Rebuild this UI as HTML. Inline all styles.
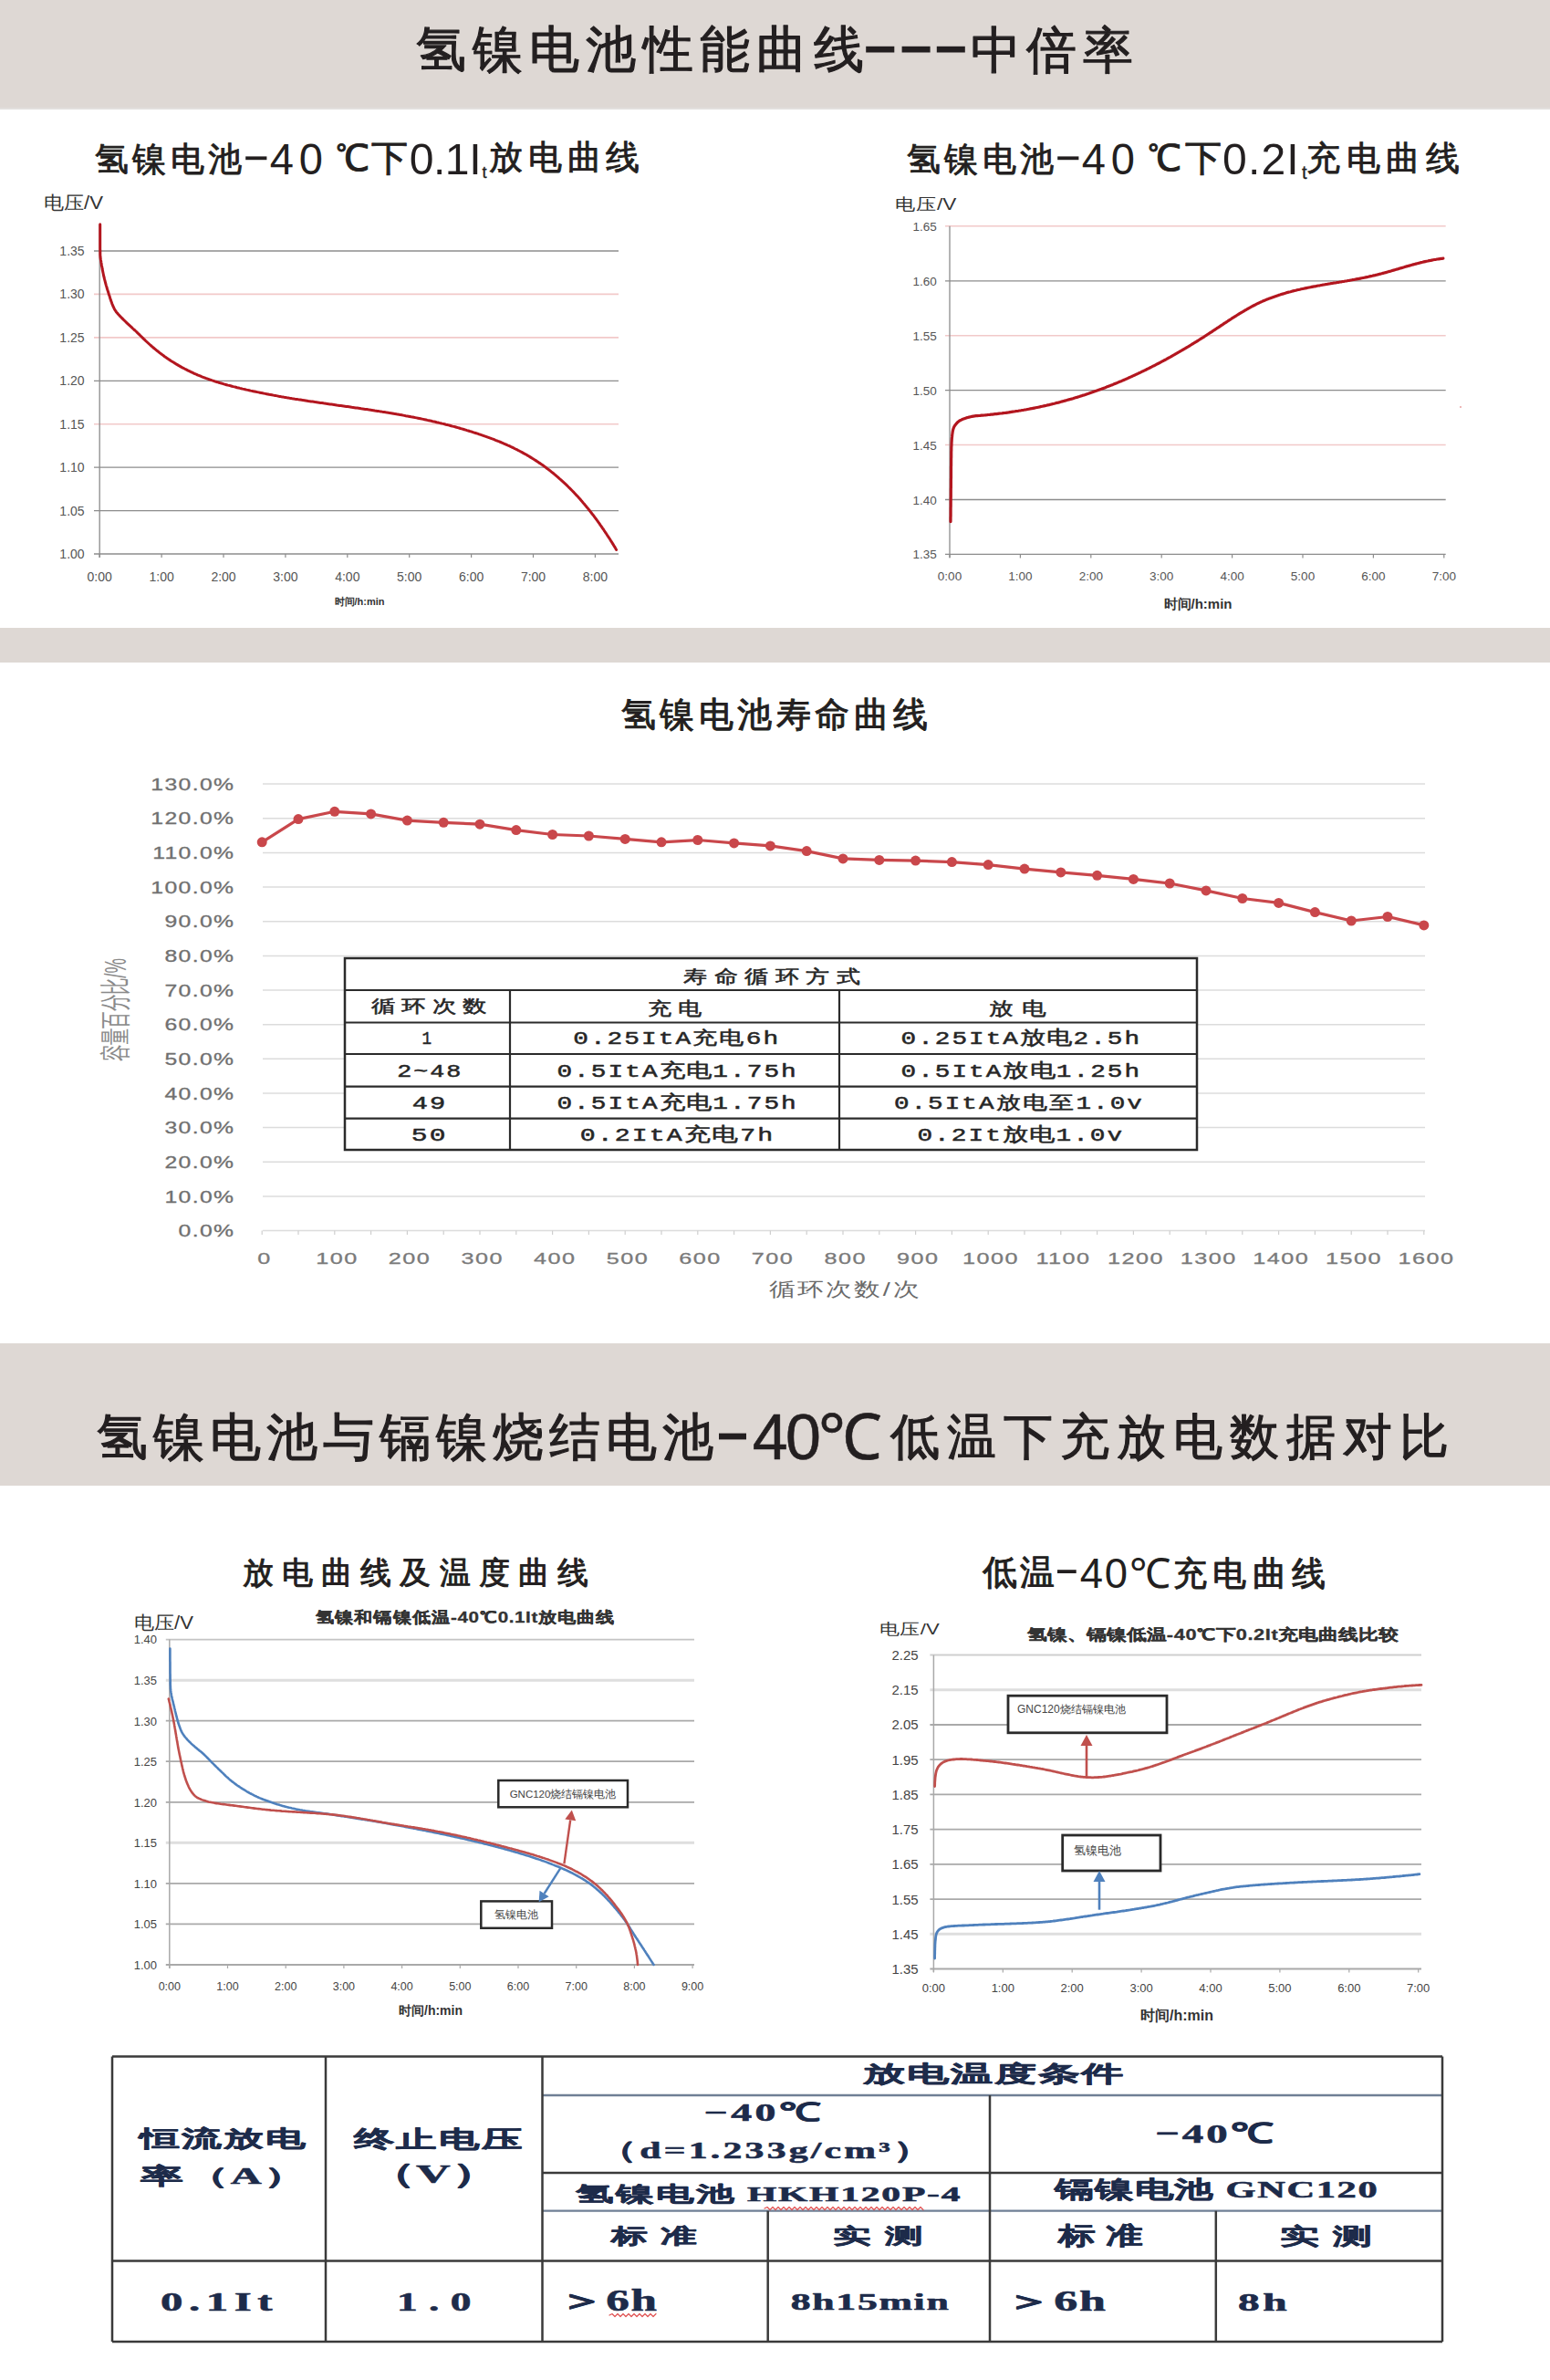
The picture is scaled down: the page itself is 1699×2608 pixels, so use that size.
<!DOCTYPE html>
<html><head><meta charset="utf-8"><style>
html,body{margin:0;padding:0;background:#fff;}
body{width:1699px;height:2608px;overflow:hidden;position:relative;font-family:"Liberation Sans",sans-serif;}
svg{position:absolute;left:0;top:0;}
</style></head><body>
<svg width="1699" height="2608" viewBox="0 0 1699 2608">
<rect x="0.0" y="0.0" width="1699.0" height="118.0" fill="#ded8d4" stroke="none" stroke-width="1"/>
<rect x="0.0" y="118.0" width="1699.0" height="2.0" fill="#e2dfdd" stroke="none" stroke-width="1"/>
<rect x="0.0" y="688.0" width="1699.0" height="38.0" fill="#ded8d4" stroke="none" stroke-width="1"/>
<rect x="0.0" y="1472.0" width="1699.0" height="156.0" fill="#ded8d4" stroke="none" stroke-width="1"/>
<text transform="translate(455.5,73.0) scale(1.0000,1)" font-size="55.48" font-family="'Liberation Sans',sans-serif" font-weight="normal" letter-spacing="7.29" fill="#231f20" stroke="#231f20" stroke-width="1.2" stroke-linejoin="round">氢镍电池性能曲线</text>
<text transform="translate(1064.2,73.8) scale(1.0000,1)" font-size="55.11" font-family="'Liberation Sans',sans-serif" font-weight="normal" letter-spacing="6.20" fill="#231f20" stroke="#231f20" stroke-width="1.2" stroke-linejoin="round">中倍率</text>
<rect x="949.2" y="50.8" width="31.1" height="6.7" fill="#231f20" stroke="none" stroke-width="1"/>
<rect x="988.6" y="50.8" width="31.0" height="6.7" fill="#231f20" stroke="none" stroke-width="1"/>
<rect x="1026.8" y="50.8" width="31.0" height="6.7" fill="#231f20" stroke="none" stroke-width="1"/>
<text transform="translate(104.2,186.5) scale(1.0000,1)" font-size="36.91" font-family="'Liberation Sans',sans-serif" font-weight="normal" letter-spacing="4.27" fill="#231f20" stroke="#231f20" stroke-width="0.9" stroke-linejoin="round">氢镍电池</text>
<text transform="translate(528.4,195.0) scale(1.0000,1)" font-size="18.31" font-family="'Liberation Sans',sans-serif" font-weight="normal" letter-spacing="0.00" fill="#231f20" stroke="#231f20" stroke-width="0.3" stroke-linejoin="round">t</text>
<text transform="translate(536.0,185.4) scale(1.0000,1)" font-size="37.07" font-family="'Liberation Sans',sans-serif" font-weight="normal" letter-spacing="5.80" fill="#231f20" stroke="#231f20" stroke-width="0.9" stroke-linejoin="round">放电曲线</text>
<text transform="translate(295.8,190.9) scale(0.9790,1)" font-size="48.10" font-family="'Liberation Sans',sans-serif" font-weight="normal" letter-spacing="6.00" fill="#231f20" >40</text>
<text transform="translate(368.4,186.5) scale(1.0000,1)" font-size="40.43" font-family="'Liberation Sans',sans-serif" font-weight="normal" letter-spacing="1.60" fill="#231f20" stroke="#231f20" stroke-width="0.9" stroke-linejoin="round">℃下</text>
<text transform="translate(448.7,190.9) scale(1.0000,1)" font-size="48.10" font-family="'Liberation Sans',sans-serif" font-weight="normal" letter-spacing="-0.47" fill="#231f20" >0.1I</text>
<text transform="translate(994.2,186.5) scale(1.0000,1)" font-size="36.91" font-family="'Liberation Sans',sans-serif" font-weight="normal" letter-spacing="4.27" fill="#231f20" stroke="#231f20" stroke-width="0.9" stroke-linejoin="round">氢镍电池</text>
<text transform="translate(1427.0,195.6) scale(1.0000,1)" font-size="20.26" font-family="'Liberation Sans',sans-serif" font-weight="normal" letter-spacing="0.00" fill="#231f20" stroke="#231f20" stroke-width="0.3" stroke-linejoin="round">t</text>
<text transform="translate(1432.2,186.4) scale(1.0000,1)" font-size="37.48" font-family="'Liberation Sans',sans-serif" font-weight="normal" letter-spacing="6.47" fill="#231f20" stroke="#231f20" stroke-width="0.9" stroke-linejoin="round">充电曲线</text>
<text transform="translate(1185.8,190.9) scale(0.9790,1)" font-size="48.10" font-family="'Liberation Sans',sans-serif" font-weight="normal" letter-spacing="6.00" fill="#231f20" >40</text>
<text transform="translate(1258.4,186.5) scale(1.0000,1)" font-size="40.43" font-family="'Liberation Sans',sans-serif" font-weight="normal" letter-spacing="3.60" fill="#231f20" stroke="#231f20" stroke-width="0.9" stroke-linejoin="round">℃下</text>
<text transform="translate(1340.1,190.9) scale(1.0000,1)" font-size="48.10" font-family="'Liberation Sans',sans-serif" font-weight="normal" letter-spacing="1.13" fill="#231f20" >0.2I</text>
<rect x="269.2" y="171.4" width="23.2" height="3.8" fill="#231f20" stroke="none" stroke-width="1"/>
<rect x="1159.2" y="171.4" width="23.2" height="3.8" fill="#231f20" stroke="none" stroke-width="1"/>
<line x1="103.0" y1="607.0" x2="678.0" y2="607.0" stroke="#8c8c8c" stroke-width="1.3"/>
<text x="92.6" y="612.0" font-size="14" fill="#555" text-anchor="end" font-weight="normal" letter-spacing="0" font-family="'Liberation Sans',sans-serif" >1.00</text>
<line x1="103.0" y1="559.6" x2="678.0" y2="559.6" stroke="#8c8c8c" stroke-width="1.3"/>
<text x="92.6" y="564.6" font-size="14" fill="#555" text-anchor="end" font-weight="normal" letter-spacing="0" font-family="'Liberation Sans',sans-serif" >1.05</text>
<line x1="103.0" y1="512.1" x2="678.0" y2="512.1" stroke="#8c8c8c" stroke-width="1.3"/>
<text x="92.6" y="517.1" font-size="14" fill="#555" text-anchor="end" font-weight="normal" letter-spacing="0" font-family="'Liberation Sans',sans-serif" >1.10</text>
<line x1="103.0" y1="464.7" x2="678.0" y2="464.7" stroke="#f2c9c9" stroke-width="1.6"/>
<text x="92.6" y="469.7" font-size="14" fill="#555" text-anchor="end" font-weight="normal" letter-spacing="0" font-family="'Liberation Sans',sans-serif" >1.15</text>
<line x1="103.0" y1="417.3" x2="678.0" y2="417.3" stroke="#8c8c8c" stroke-width="1.3"/>
<text x="92.6" y="422.3" font-size="14" fill="#555" text-anchor="end" font-weight="normal" letter-spacing="0" font-family="'Liberation Sans',sans-serif" >1.20</text>
<line x1="103.0" y1="369.9" x2="678.0" y2="369.9" stroke="#f2c9c9" stroke-width="1.6"/>
<text x="92.6" y="374.9" font-size="14" fill="#555" text-anchor="end" font-weight="normal" letter-spacing="0" font-family="'Liberation Sans',sans-serif" >1.25</text>
<line x1="103.0" y1="322.4" x2="678.0" y2="322.4" stroke="#f2c9c9" stroke-width="1.6"/>
<text x="92.6" y="327.4" font-size="14" fill="#555" text-anchor="end" font-weight="normal" letter-spacing="0" font-family="'Liberation Sans',sans-serif" >1.30</text>
<line x1="103.0" y1="275.0" x2="678.0" y2="275.0" stroke="#8c8c8c" stroke-width="1.3"/>
<text x="92.6" y="280.0" font-size="14" fill="#555" text-anchor="end" font-weight="normal" letter-spacing="0" font-family="'Liberation Sans',sans-serif" >1.35</text>
<line x1="109.2" y1="246.0" x2="109.2" y2="611.0" stroke="#8c8c8c" stroke-width="1.3"/>
<line x1="109.2" y1="607.0" x2="109.2" y2="611.0" stroke="#8c8c8c" stroke-width="1.2"/>
<text x="109.2" y="637.0" font-size="14" fill="#555" text-anchor="middle" font-weight="normal" letter-spacing="0" font-family="'Liberation Sans',sans-serif" >0:00</text>
<line x1="177.1" y1="607.0" x2="177.1" y2="611.0" stroke="#8c8c8c" stroke-width="1.2"/>
<text x="177.1" y="637.0" font-size="14" fill="#555" text-anchor="middle" font-weight="normal" letter-spacing="0" font-family="'Liberation Sans',sans-serif" >1:00</text>
<line x1="245.0" y1="607.0" x2="245.0" y2="611.0" stroke="#8c8c8c" stroke-width="1.2"/>
<text x="245.0" y="637.0" font-size="14" fill="#555" text-anchor="middle" font-weight="normal" letter-spacing="0" font-family="'Liberation Sans',sans-serif" >2:00</text>
<line x1="312.9" y1="607.0" x2="312.9" y2="611.0" stroke="#8c8c8c" stroke-width="1.2"/>
<text x="312.9" y="637.0" font-size="14" fill="#555" text-anchor="middle" font-weight="normal" letter-spacing="0" font-family="'Liberation Sans',sans-serif" >3:00</text>
<line x1="380.8" y1="607.0" x2="380.8" y2="611.0" stroke="#8c8c8c" stroke-width="1.2"/>
<text x="380.8" y="637.0" font-size="14" fill="#555" text-anchor="middle" font-weight="normal" letter-spacing="0" font-family="'Liberation Sans',sans-serif" >4:00</text>
<line x1="448.7" y1="607.0" x2="448.7" y2="611.0" stroke="#8c8c8c" stroke-width="1.2"/>
<text x="448.7" y="637.0" font-size="14" fill="#555" text-anchor="middle" font-weight="normal" letter-spacing="0" font-family="'Liberation Sans',sans-serif" >5:00</text>
<line x1="516.6" y1="607.0" x2="516.6" y2="611.0" stroke="#8c8c8c" stroke-width="1.2"/>
<text x="516.6" y="637.0" font-size="14" fill="#555" text-anchor="middle" font-weight="normal" letter-spacing="0" font-family="'Liberation Sans',sans-serif" >6:00</text>
<line x1="584.5" y1="607.0" x2="584.5" y2="611.0" stroke="#8c8c8c" stroke-width="1.2"/>
<text x="584.5" y="637.0" font-size="14" fill="#555" text-anchor="middle" font-weight="normal" letter-spacing="0" font-family="'Liberation Sans',sans-serif" >7:00</text>
<line x1="652.4" y1="607.0" x2="652.4" y2="611.0" stroke="#8c8c8c" stroke-width="1.2"/>
<text x="652.4" y="637.0" font-size="14" fill="#555" text-anchor="middle" font-weight="normal" letter-spacing="0" font-family="'Liberation Sans',sans-serif" >8:00</text>
<text x="394.0" y="663.0" font-size="11" fill="#333" text-anchor="middle" font-weight="bold" letter-spacing="0" font-family="'Liberation Sans',sans-serif" >时间/h:min</text>
<text transform="translate(48.0,229.0) scale(1.1037,1)" font-size="20.08" font-family="'Liberation Sans',sans-serif" font-weight="normal" letter-spacing="0.00" fill="#333" >电压/V</text>
<path d="M109.7,245.8 L109.7,247.6 L109.7,248.9 L109.7,250.3 L109.7,251.8 L109.7,253.3 L109.7,254.8 L109.7,256.3 L109.7,257.8 L109.7,259.3 L109.7,260.8 L109.7,262.3 L109.7,263.8 L109.7,265.3 L109.7,266.8 L109.7,268.3 L109.7,269.8 L109.7,271.3 L109.7,272.8 L109.8,274.3 L109.8,275.8 L109.8,277.3 L109.8,278.8 L109.9,280.3 L110.0,281.8 L110.2,283.3 L110.4,284.8 L110.7,286.2 L110.9,287.7 L111.2,289.2 L111.4,290.7 L111.7,292.2 L112.0,293.6 L112.2,295.1 L112.5,296.6 L112.8,298.1 L113.1,299.5 L113.4,301.0 L113.7,302.5 L114.1,303.9 L114.4,305.4 L114.8,306.8 L115.2,308.3 L115.5,309.7 L115.9,311.2 L116.3,312.6 L116.8,314.1 L117.2,315.5 L117.6,317.0 L118.1,318.4 L118.5,319.8 L119.0,321.3 L119.4,322.7 L119.9,324.1 L120.4,325.6 L120.8,327.0 L121.3,328.5 L121.8,329.9 L122.3,331.3 L122.8,332.8 L123.4,334.2 L123.9,335.5 L124.6,336.9 L125.2,338.2 L125.9,339.5 L126.7,340.7 L127.5,341.9 L128.5,343.0 L129.5,344.2 L130.5,345.3 L131.5,346.4 L132.6,347.5 L133.7,348.6 L134.7,349.6 L135.8,350.7 L136.9,351.8 L137.9,352.8 L139.0,353.9 L140.1,354.9 L141.2,355.9 L142.3,356.9 L143.4,357.9 L144.5,358.9 L145.6,360.0 L146.7,361.0 L147.9,362.0 L149.0,363.0 L150.0,364.0 L151.1,365.1 L152.2,366.1 L153.3,367.2 L154.3,368.2 L155.4,369.3 L156.5,370.4 L157.5,371.4 L158.6,372.4 L159.7,373.5 L160.8,374.5 L161.9,375.5 L163.0,376.5 L164.1,377.5 L165.2,378.5 L166.4,379.5 L167.5,380.5 L168.7,381.5 L169.8,382.4 L171.0,383.4 L172.1,384.3 L173.3,385.2 L174.5,386.2 L175.7,387.1 L176.9,388.0 L178.1,388.9 L179.3,389.8 L180.5,390.7 L181.7,391.5 L183.0,392.4 L184.2,393.2 L185.4,394.1 L186.7,394.9 L187.9,395.7 L189.2,396.5 L190.5,397.3 L191.8,398.1 L193.0,398.9 L194.3,399.6 L195.6,400.4 L196.9,401.1 L198.2,401.9 L199.5,402.6 L200.9,403.3 L202.2,404.0 L203.5,404.7 L204.9,405.4 L206.2,406.1 L207.5,406.7 L208.9,407.4 L210.3,408.0 L211.6,408.6 L213.0,409.3 L214.4,409.9 L215.7,410.5 L217.1,411.1 L218.5,411.6 L219.9,412.2 L221.3,412.8 L222.7,413.3 L224.1,413.8 L225.5,414.4 L226.9,414.9 L228.3,415.4 L229.7,415.9 L231.1,416.4 L232.5,416.9 L234.0,417.3 L235.4,417.8 L236.8,418.3 L238.3,418.7 L239.7,419.2 L241.1,419.6 L242.6,420.0 L244.0,420.4 L245.4,420.9 L246.9,421.3 L248.3,421.7 L249.8,422.1 L251.2,422.4 L252.7,422.8 L254.1,423.2 L255.6,423.6 L257.0,423.9 L258.5,424.3 L259.9,424.7 L261.4,425.0 L262.9,425.4 L264.3,425.7 L265.8,426.1 L267.2,426.4 L268.7,426.7 L270.2,427.1 L271.6,427.4 L273.1,427.7 L274.6,428.1 L276.0,428.4 L277.5,428.7 L279.0,429.0 L280.4,429.3 L281.9,429.6 L283.4,429.9 L284.8,430.2 L286.3,430.5 L287.8,430.8 L289.2,431.1 L290.7,431.4 L292.2,431.7 L293.7,432.0 L295.1,432.3 L296.6,432.5 L298.1,432.8 L299.6,433.1 L301.0,433.4 L302.5,433.6 L304.0,433.9 L305.5,434.2 L306.9,434.4 L308.4,434.7 L309.9,434.9 L311.4,435.2 L312.8,435.4 L314.3,435.7 L315.8,435.9 L317.3,436.2 L318.8,436.4 L320.2,436.7 L321.7,436.9 L323.2,437.2 L324.7,437.4 L326.2,437.6 L327.7,437.9 L329.1,438.1 L330.6,438.3 L332.1,438.6 L333.6,438.8 L335.1,439.0 L336.5,439.2 L338.0,439.5 L339.5,439.7 L341.0,439.9 L342.5,440.1 L344.0,440.3 L345.4,440.6 L346.9,440.8 L348.4,441.0 L349.9,441.2 L351.4,441.4 L352.9,441.6 L354.4,441.8 L355.8,442.1 L357.3,442.3 L358.8,442.5 L360.3,442.7 L361.8,442.9 L363.3,443.1 L364.8,443.3 L366.2,443.5 L367.7,443.7 L369.2,444.0 L370.7,444.2 L372.2,444.4 L373.7,444.6 L375.1,444.8 L376.6,445.0 L378.1,445.2 L379.6,445.4 L381.1,445.6 L382.6,445.8 L384.1,446.0 L385.5,446.3 L387.0,446.5 L388.5,446.7 L390.0,446.9 L391.5,447.1 L393.0,447.3 L394.5,447.5 L395.9,447.8 L397.4,448.0 L398.9,448.2 L400.4,448.4 L401.9,448.6 L403.4,448.8 L404.8,449.1 L406.3,449.3 L407.8,449.5 L409.3,449.7 L410.8,450.0 L412.3,450.2 L413.7,450.4 L415.2,450.6 L416.7,450.9 L418.2,451.1 L419.7,451.4 L421.1,451.6 L422.6,451.8 L424.1,452.1 L425.6,452.3 L427.1,452.6 L428.6,452.8 L430.0,453.0 L431.5,453.3 L433.0,453.6 L434.5,453.8 L435.9,454.1 L437.4,454.3 L438.9,454.6 L440.4,454.8 L441.9,455.1 L443.3,455.4 L444.8,455.7 L446.3,455.9 L447.8,456.2 L449.2,456.5 L450.7,456.8 L452.2,457.0 L453.6,457.3 L455.1,457.6 L456.6,457.9 L458.1,458.2 L459.5,458.5 L461.0,458.8 L462.5,459.1 L463.9,459.4 L465.4,459.7 L466.9,460.0 L468.3,460.4 L469.8,460.7 L471.3,461.0 L472.7,461.3 L474.2,461.7 L475.7,462.0 L477.1,462.3 L478.6,462.7 L480.0,463.0 L481.5,463.4 L483.0,463.7 L484.4,464.1 L485.9,464.4 L487.3,464.8 L488.8,465.2 L490.2,465.5 L491.7,465.9 L493.1,466.3 L494.6,466.7 L496.0,467.1 L497.5,467.4 L498.9,467.8 L500.4,468.2 L501.8,468.6 L503.3,469.0 L504.7,469.5 L506.1,469.9 L507.6,470.3 L509.0,470.7 L510.5,471.1 L511.9,471.6 L513.3,472.0 L514.8,472.5 L516.2,472.9 L517.6,473.3 L519.1,473.8 L520.5,474.3 L521.9,474.7 L523.3,475.2 L524.8,475.7 L526.2,476.1 L527.6,476.6 L529.0,477.1 L530.4,477.6 L531.9,478.1 L533.3,478.6 L534.7,479.1 L536.1,479.6 L537.5,480.1 L538.9,480.7 L540.3,481.2 L541.7,481.7 L543.1,482.3 L544.5,482.8 L545.9,483.4 L547.3,483.9 L548.7,484.5 L550.1,485.1 L551.4,485.7 L552.8,486.3 L554.2,486.9 L555.6,487.5 L556.9,488.1 L558.3,488.7 L559.7,489.4 L561.0,490.0 L562.4,490.6 L563.7,491.3 L565.1,492.0 L566.4,492.6 L567.7,493.3 L569.1,494.0 L570.4,494.7 L571.7,495.4 L573.0,496.1 L574.3,496.9 L575.7,497.6 L577.0,498.3 L578.3,499.1 L579.5,499.8 L580.8,500.6 L582.1,501.4 L583.4,502.2 L584.7,503.0 L585.9,503.8 L587.2,504.6 L588.5,505.4 L589.7,506.2 L590.9,507.1 L592.2,507.9 L593.4,508.8 L594.6,509.6 L595.9,510.5 L597.1,511.4 L598.3,512.3 L599.5,513.2 L600.7,514.1 L601.9,515.0 L603.1,515.9 L604.2,516.8 L605.4,517.8 L606.6,518.7 L607.7,519.7 L608.9,520.6 L610.0,521.6 L611.2,522.6 L612.3,523.6 L613.4,524.6 L614.6,525.6 L615.7,526.6 L616.8,527.6 L617.9,528.6 L619.0,529.6 L620.1,530.6 L621.1,531.7 L622.2,532.7 L623.3,533.8 L624.4,534.8 L625.4,535.9 L626.5,537.0 L627.5,538.0 L628.6,539.1 L629.6,540.2 L630.6,541.3 L631.6,542.4 L632.7,543.5 L633.7,544.6 L634.7,545.7 L635.7,546.8 L636.7,548.0 L637.6,549.1 L638.6,550.2 L639.6,551.4 L640.6,552.5 L641.5,553.7 L642.5,554.8 L643.4,556.0 L644.4,557.1 L645.3,558.3 L646.3,559.5 L647.2,560.7 L648.1,561.8 L649.0,563.0 L650.0,564.2 L650.9,565.4 L651.8,566.6 L652.7,567.8 L653.6,569.0 L654.4,570.2 L655.3,571.4 L656.2,572.7 L657.1,573.9 L657.9,575.1 L658.8,576.3 L659.7,577.6 L660.5,578.8 L661.4,580.0 L662.2,581.3 L663.0,582.5 L663.9,583.8 L664.7,585.0 L665.5,586.3 L666.3,587.5 L667.2,588.8 L668.0,590.0 L668.8,591.3 L669.6,592.6 L670.4,593.8 L671.2,595.1 L672.0,596.4 L672.8,597.7 L673.5,598.9 L674.3,600.1 L674.9,601.2 L675.6,602.4" fill="none" stroke="#b3161f" stroke-width="3" stroke-linejoin="round" stroke-linecap="round" />
<line x1="1036.0" y1="607.4" x2="1584.7" y2="607.4" stroke="#8c8c8c" stroke-width="1.3"/>
<text x="1026.8" y="612.4" font-size="13.5" fill="#555" text-anchor="end" font-weight="normal" letter-spacing="0" font-family="'Liberation Sans',sans-serif" >1.35</text>
<line x1="1036.0" y1="547.5" x2="1584.7" y2="547.5" stroke="#8c8c8c" stroke-width="1.3"/>
<text x="1026.8" y="552.5" font-size="13.5" fill="#555" text-anchor="end" font-weight="normal" letter-spacing="0" font-family="'Liberation Sans',sans-serif" >1.40</text>
<line x1="1036.0" y1="487.5" x2="1584.7" y2="487.5" stroke="#f2c9c9" stroke-width="1.6"/>
<text x="1026.8" y="492.5" font-size="13.5" fill="#555" text-anchor="end" font-weight="normal" letter-spacing="0" font-family="'Liberation Sans',sans-serif" >1.45</text>
<line x1="1036.0" y1="427.6" x2="1584.7" y2="427.6" stroke="#8c8c8c" stroke-width="1.3"/>
<text x="1026.8" y="432.6" font-size="13.5" fill="#555" text-anchor="end" font-weight="normal" letter-spacing="0" font-family="'Liberation Sans',sans-serif" >1.50</text>
<line x1="1036.0" y1="367.7" x2="1584.7" y2="367.7" stroke="#f2c9c9" stroke-width="1.6"/>
<text x="1026.8" y="372.7" font-size="13.5" fill="#555" text-anchor="end" font-weight="normal" letter-spacing="0" font-family="'Liberation Sans',sans-serif" >1.55</text>
<line x1="1036.0" y1="307.8" x2="1584.7" y2="307.8" stroke="#8c8c8c" stroke-width="1.3"/>
<text x="1026.8" y="312.8" font-size="13.5" fill="#555" text-anchor="end" font-weight="normal" letter-spacing="0" font-family="'Liberation Sans',sans-serif" >1.60</text>
<line x1="1036.0" y1="247.8" x2="1584.7" y2="247.8" stroke="#f2c9c9" stroke-width="1.6"/>
<text x="1026.8" y="252.8" font-size="13.5" fill="#555" text-anchor="end" font-weight="normal" letter-spacing="0" font-family="'Liberation Sans',sans-serif" >1.65</text>
<line x1="1041.0" y1="247.8" x2="1041.0" y2="611.0" stroke="#8c8c8c" stroke-width="1.3"/>
<line x1="1041.0" y1="607.4" x2="1041.0" y2="611.5" stroke="#8c8c8c" stroke-width="1.2"/>
<text x="1041.0" y="636.0" font-size="13.5" fill="#555" text-anchor="middle" font-weight="normal" letter-spacing="0" font-family="'Liberation Sans',sans-serif" >0:00</text>
<line x1="1118.4" y1="607.4" x2="1118.4" y2="611.5" stroke="#8c8c8c" stroke-width="1.2"/>
<text x="1118.4" y="636.0" font-size="13.5" fill="#555" text-anchor="middle" font-weight="normal" letter-spacing="0" font-family="'Liberation Sans',sans-serif" >1:00</text>
<line x1="1195.8" y1="607.4" x2="1195.8" y2="611.5" stroke="#8c8c8c" stroke-width="1.2"/>
<text x="1195.8" y="636.0" font-size="13.5" fill="#555" text-anchor="middle" font-weight="normal" letter-spacing="0" font-family="'Liberation Sans',sans-serif" >2:00</text>
<line x1="1273.2" y1="607.4" x2="1273.2" y2="611.5" stroke="#8c8c8c" stroke-width="1.2"/>
<text x="1273.2" y="636.0" font-size="13.5" fill="#555" text-anchor="middle" font-weight="normal" letter-spacing="0" font-family="'Liberation Sans',sans-serif" >3:00</text>
<line x1="1350.6" y1="607.4" x2="1350.6" y2="611.5" stroke="#8c8c8c" stroke-width="1.2"/>
<text x="1350.6" y="636.0" font-size="13.5" fill="#555" text-anchor="middle" font-weight="normal" letter-spacing="0" font-family="'Liberation Sans',sans-serif" >4:00</text>
<line x1="1428.0" y1="607.4" x2="1428.0" y2="611.5" stroke="#8c8c8c" stroke-width="1.2"/>
<text x="1428.0" y="636.0" font-size="13.5" fill="#555" text-anchor="middle" font-weight="normal" letter-spacing="0" font-family="'Liberation Sans',sans-serif" >5:00</text>
<line x1="1505.4" y1="607.4" x2="1505.4" y2="611.5" stroke="#8c8c8c" stroke-width="1.2"/>
<text x="1505.4" y="636.0" font-size="13.5" fill="#555" text-anchor="middle" font-weight="normal" letter-spacing="0" font-family="'Liberation Sans',sans-serif" >6:00</text>
<line x1="1582.8" y1="607.4" x2="1582.8" y2="611.5" stroke="#8c8c8c" stroke-width="1.2"/>
<text x="1582.8" y="636.0" font-size="13.5" fill="#555" text-anchor="middle" font-weight="normal" letter-spacing="0" font-family="'Liberation Sans',sans-serif" >7:00</text>
<text x="1313.0" y="667.0" font-size="15" fill="#333" text-anchor="middle" font-weight="bold" letter-spacing="0" font-family="'Liberation Sans',sans-serif" >时间/h:min</text>
<text transform="translate(980.9,229.6) scale(1.2349,1)" font-size="18.32" font-family="'Liberation Sans',sans-serif" font-weight="normal" letter-spacing="0.00" fill="#333" >电压/V</text>
<path d="M1042.0,571.6 L1042.0,569.8 L1042.0,568.5 L1042.0,567.1 L1042.1,565.6 L1042.1,564.1 L1042.1,562.6 L1042.1,561.1 L1042.1,559.6 L1042.1,558.1 L1042.1,556.6 L1042.2,555.1 L1042.2,553.6 L1042.2,552.1 L1042.2,550.6 L1042.2,549.1 L1042.2,547.6 L1042.2,546.1 L1042.3,544.6 L1042.3,543.1 L1042.3,541.6 L1042.3,540.1 L1042.3,538.6 L1042.3,537.1 L1042.3,535.6 L1042.4,534.1 L1042.4,532.6 L1042.4,531.1 L1042.4,529.6 L1042.4,528.1 L1042.4,526.6 L1042.4,525.1 L1042.5,523.6 L1042.5,522.1 L1042.5,520.6 L1042.5,519.1 L1042.5,517.6 L1042.5,516.1 L1042.5,514.6 L1042.5,513.1 L1042.5,511.6 L1042.6,510.1 L1042.6,508.6 L1042.6,507.1 L1042.6,505.6 L1042.6,504.1 L1042.6,502.6 L1042.7,501.1 L1042.7,499.6 L1042.7,498.1 L1042.7,496.6 L1042.7,495.1 L1042.8,493.6 L1042.8,492.1 L1042.8,490.6 L1042.9,489.1 L1043.0,487.5 L1043.0,486.0 L1043.1,484.5 L1043.2,482.9 L1043.3,481.4 L1043.4,479.9 L1043.6,478.4 L1043.7,476.9 L1043.9,475.4 L1044.1,474.0 L1044.3,472.6 L1044.6,471.2 L1045.0,469.8 L1045.5,468.4 L1046.2,467.0 L1047.1,465.7 L1048.1,464.4 L1049.1,463.3 L1050.2,462.3 L1051.3,461.4 L1052.4,460.7 L1053.7,460.1 L1054.9,459.5 L1056.3,458.9 L1057.7,458.4 L1059.2,457.9 L1060.7,457.5 L1062.2,457.1 L1063.8,456.7 L1065.3,456.4 L1066.9,456.1 L1068.4,455.9 L1069.9,455.7 L1071.4,455.6 L1072.9,455.5 L1074.4,455.4 L1075.9,455.2 L1077.4,455.1 L1078.9,455.0 L1080.4,454.8 L1081.9,454.7 L1083.4,454.5 L1084.9,454.4 L1086.4,454.2 L1087.8,454.1 L1089.3,453.9 L1090.8,453.7 L1092.3,453.6 L1093.8,453.4 L1095.3,453.2 L1096.8,453.0 L1098.3,452.9 L1099.8,452.7 L1101.2,452.5 L1102.7,452.3 L1104.2,452.1 L1105.7,451.9 L1107.2,451.6 L1108.7,451.4 L1110.2,451.2 L1111.6,451.0 L1113.1,450.7 L1114.6,450.5 L1116.1,450.3 L1117.6,450.0 L1119.0,449.8 L1120.5,449.5 L1122.0,449.3 L1123.5,449.0 L1124.9,448.8 L1126.4,448.5 L1127.9,448.2 L1129.4,447.9 L1130.8,447.7 L1132.3,447.4 L1133.8,447.1 L1135.3,446.8 L1136.7,446.5 L1138.2,446.2 L1139.7,445.9 L1141.1,445.5 L1142.6,445.2 L1144.1,444.9 L1145.5,444.6 L1147.0,444.3 L1148.4,443.9 L1149.9,443.6 L1151.4,443.2 L1152.8,442.9 L1154.3,442.5 L1155.7,442.2 L1157.2,441.8 L1158.6,441.4 L1160.1,441.1 L1161.6,440.7 L1163.0,440.3 L1164.5,439.9 L1165.9,439.5 L1167.3,439.1 L1168.8,438.7 L1170.2,438.3 L1171.7,437.9 L1173.1,437.5 L1174.6,437.1 L1176.0,436.7 L1177.4,436.2 L1178.9,435.8 L1180.3,435.4 L1181.7,434.9 L1183.2,434.5 L1184.6,434.0 L1186.0,433.6 L1187.5,433.1 L1188.9,432.7 L1190.3,432.2 L1191.7,431.7 L1193.2,431.3 L1194.6,430.8 L1196.0,430.3 L1197.4,429.8 L1198.8,429.3 L1200.2,428.8 L1201.7,428.3 L1203.1,427.8 L1204.5,427.3 L1205.9,426.8 L1207.3,426.3 L1208.7,425.7 L1210.1,425.2 L1211.5,424.7 L1212.9,424.1 L1214.3,423.6 L1215.7,423.0 L1217.1,422.5 L1218.5,421.9 L1219.9,421.4 L1221.3,420.8 L1222.7,420.2 L1224.0,419.7 L1225.4,419.1 L1226.8,418.5 L1228.2,417.9 L1229.6,417.4 L1231.0,416.8 L1232.3,416.2 L1233.7,415.6 L1235.1,415.0 L1236.4,414.4 L1237.8,413.7 L1239.2,413.1 L1240.6,412.5 L1241.9,411.9 L1243.3,411.3 L1244.6,410.6 L1246.0,410.0 L1247.4,409.4 L1248.7,408.7 L1250.1,408.1 L1251.4,407.4 L1252.8,406.8 L1254.1,406.1 L1255.5,405.5 L1256.8,404.8 L1258.2,404.1 L1259.5,403.5 L1260.8,402.8 L1262.2,402.1 L1263.5,401.4 L1264.9,400.8 L1266.2,400.1 L1267.5,399.4 L1268.8,398.7 L1270.2,398.0 L1271.5,397.3 L1272.8,396.6 L1274.1,395.9 L1275.5,395.2 L1276.8,394.5 L1278.1,393.8 L1279.4,393.0 L1280.7,392.3 L1282.1,391.6 L1283.4,390.9 L1284.7,390.1 L1286.0,389.4 L1287.3,388.7 L1288.6,387.9 L1289.9,387.2 L1291.2,386.4 L1292.5,385.7 L1293.8,384.9 L1295.1,384.2 L1296.4,383.4 L1297.7,382.6 L1299.0,381.9 L1300.2,381.1 L1301.5,380.3 L1302.8,379.6 L1304.1,378.8 L1305.4,378.0 L1306.7,377.2 L1307.9,376.5 L1309.2,375.7 L1310.5,374.9 L1311.8,374.1 L1313.0,373.3 L1314.3,372.5 L1315.6,371.7 L1316.8,370.9 L1318.1,370.1 L1319.4,369.3 L1320.6,368.5 L1321.9,367.7 L1323.2,366.8 L1324.4,366.0 L1325.7,365.2 L1326.9,364.4 L1328.2,363.6 L1329.4,362.7 L1330.7,361.9 L1331.9,361.1 L1333.2,360.2 L1334.4,359.4 L1335.7,358.6 L1336.9,357.8 L1338.2,356.9 L1339.4,356.1 L1340.7,355.3 L1341.9,354.4 L1343.2,353.6 L1344.4,352.8 L1345.7,352.0 L1346.9,351.1 L1348.2,350.3 L1349.5,349.5 L1350.7,348.7 L1352.0,347.9 L1353.2,347.1 L1354.5,346.3 L1355.8,345.5 L1357.1,344.7 L1358.3,343.9 L1359.6,343.1 L1360.9,342.3 L1362.2,341.6 L1363.5,340.8 L1364.8,340.0 L1366.1,339.3 L1367.4,338.5 L1368.7,337.8 L1370.0,337.1 L1371.3,336.4 L1372.6,335.7 L1373.9,335.0 L1375.3,334.3 L1376.6,333.6 L1377.9,332.9 L1379.3,332.3 L1380.6,331.6 L1382.0,331.0 L1383.4,330.4 L1384.7,329.8 L1386.1,329.2 L1387.5,328.6 L1388.9,328.0 L1390.3,327.5 L1391.7,326.9 L1393.1,326.4 L1394.5,325.9 L1395.9,325.4 L1397.3,324.9 L1398.7,324.4 L1400.2,323.9 L1401.6,323.4 L1403.0,323.0 L1404.4,322.5 L1405.9,322.1 L1407.3,321.7 L1408.8,321.3 L1410.2,320.8 L1411.6,320.4 L1413.1,320.0 L1414.5,319.7 L1416.0,319.3 L1417.4,318.9 L1418.9,318.5 L1420.4,318.2 L1421.8,317.8 L1423.3,317.5 L1424.7,317.2 L1426.2,316.8 L1427.7,316.5 L1429.1,316.2 L1430.6,315.9 L1432.1,315.6 L1433.5,315.3 L1435.0,315.0 L1436.5,314.7 L1437.9,314.4 L1439.4,314.1 L1440.9,313.8 L1442.4,313.6 L1443.8,313.3 L1445.3,313.0 L1446.8,312.8 L1448.3,312.5 L1449.7,312.2 L1451.2,312.0 L1452.7,311.7 L1454.2,311.5 L1455.7,311.2 L1457.1,311.0 L1458.6,310.7 L1460.1,310.5 L1461.6,310.2 L1463.1,310.0 L1464.5,309.8 L1466.0,309.5 L1467.5,309.3 L1469.0,309.0 L1470.5,308.8 L1471.9,308.5 L1473.4,308.3 L1474.9,308.0 L1476.4,307.8 L1477.8,307.5 L1479.3,307.3 L1480.8,307.0 L1482.3,306.7 L1483.8,306.5 L1485.2,306.2 L1486.7,305.9 L1488.2,305.6 L1489.6,305.4 L1491.1,305.1 L1492.6,304.8 L1494.1,304.5 L1495.5,304.2 L1497.0,303.9 L1498.5,303.6 L1499.9,303.3 L1501.4,302.9 L1502.9,302.6 L1504.3,302.3 L1505.8,301.9 L1507.2,301.6 L1508.7,301.2 L1510.2,300.9 L1511.6,300.5 L1513.1,300.1 L1514.5,299.8 L1516.0,299.4 L1517.4,299.0 L1518.9,298.6 L1520.3,298.2 L1521.7,297.8 L1523.2,297.4 L1524.6,297.0 L1526.1,296.5 L1527.5,296.1 L1528.9,295.7 L1530.4,295.3 L1531.8,294.9 L1533.3,294.4 L1534.7,294.0 L1536.1,293.6 L1537.6,293.2 L1539.0,292.8 L1540.5,292.3 L1541.9,291.9 L1543.4,291.5 L1544.8,291.1 L1546.2,290.7 L1547.7,290.3 L1549.1,289.9 L1550.6,289.5 L1552.0,289.1 L1553.5,288.7 L1554.9,288.4 L1556.4,288.0 L1557.8,287.6 L1559.3,287.3 L1560.8,286.9 L1562.2,286.6 L1563.7,286.3 L1565.1,286.0 L1566.6,285.6 L1568.1,285.4 L1569.6,285.1 L1571.0,284.8 L1572.5,284.5 L1574.0,284.3 L1575.5,284.0 L1576.9,283.8 L1578.4,283.6 L1579.8,283.4 L1580.8,283.3 L1581.9,283.2" fill="none" stroke="#b3161f" stroke-width="3.2" stroke-linejoin="round" stroke-linecap="round" />
<circle cx="1601" cy="446" r="1" fill="#e8a0a0"/>
<text transform="translate(680.8,795.5) scale(1.0000,1)" font-size="37.92" font-family="'Liberation Sans',sans-serif" font-weight="normal" letter-spacing="4.54" fill="#231f20" stroke="#231f20" stroke-width="1.0" stroke-linejoin="round">氢镍电池寿命曲线</text>
<line x1="288.0" y1="1348.6" x2="1562.0" y2="1348.6" stroke="#dcdcdc" stroke-width="1.5"/>
<text transform="translate(257.4,1355.2) scale(1.36,1)" text-anchor="end" font-size="18.2" letter-spacing="1" font-family="'Liberation Sans',sans-serif" fill="#707070" stroke="#707070" stroke-width="0.3">0.0%</text>
<line x1="288.0" y1="1310.9" x2="1562.0" y2="1310.9" stroke="#dcdcdc" stroke-width="1.5"/>
<text transform="translate(257.4,1317.5) scale(1.36,1)" text-anchor="end" font-size="18.2" letter-spacing="1" font-family="'Liberation Sans',sans-serif" fill="#707070" stroke="#707070" stroke-width="0.3">10.0%</text>
<line x1="288.0" y1="1273.3" x2="1562.0" y2="1273.3" stroke="#dcdcdc" stroke-width="1.5"/>
<text transform="translate(257.4,1279.9) scale(1.36,1)" text-anchor="end" font-size="18.2" letter-spacing="1" font-family="'Liberation Sans',sans-serif" fill="#707070" stroke="#707070" stroke-width="0.3">20.0%</text>
<line x1="288.0" y1="1235.6" x2="1562.0" y2="1235.6" stroke="#dcdcdc" stroke-width="1.5"/>
<text transform="translate(257.4,1242.2) scale(1.36,1)" text-anchor="end" font-size="18.2" letter-spacing="1" font-family="'Liberation Sans',sans-serif" fill="#707070" stroke="#707070" stroke-width="0.3">30.0%</text>
<line x1="288.0" y1="1198.0" x2="1562.0" y2="1198.0" stroke="#dcdcdc" stroke-width="1.5"/>
<text transform="translate(257.4,1204.6) scale(1.36,1)" text-anchor="end" font-size="18.2" letter-spacing="1" font-family="'Liberation Sans',sans-serif" fill="#707070" stroke="#707070" stroke-width="0.3">40.0%</text>
<line x1="288.0" y1="1160.3" x2="1562.0" y2="1160.3" stroke="#dcdcdc" stroke-width="1.5"/>
<text transform="translate(257.4,1166.9) scale(1.36,1)" text-anchor="end" font-size="18.2" letter-spacing="1" font-family="'Liberation Sans',sans-serif" fill="#707070" stroke="#707070" stroke-width="0.3">50.0%</text>
<line x1="288.0" y1="1122.7" x2="1562.0" y2="1122.7" stroke="#dcdcdc" stroke-width="1.5"/>
<text transform="translate(257.4,1129.3) scale(1.36,1)" text-anchor="end" font-size="18.2" letter-spacing="1" font-family="'Liberation Sans',sans-serif" fill="#707070" stroke="#707070" stroke-width="0.3">60.0%</text>
<line x1="288.0" y1="1085.0" x2="1562.0" y2="1085.0" stroke="#dcdcdc" stroke-width="1.5"/>
<text transform="translate(257.4,1091.6) scale(1.36,1)" text-anchor="end" font-size="18.2" letter-spacing="1" font-family="'Liberation Sans',sans-serif" fill="#707070" stroke="#707070" stroke-width="0.3">70.0%</text>
<line x1="288.0" y1="1047.4" x2="1562.0" y2="1047.4" stroke="#dcdcdc" stroke-width="1.5"/>
<text transform="translate(257.4,1054.0) scale(1.36,1)" text-anchor="end" font-size="18.2" letter-spacing="1" font-family="'Liberation Sans',sans-serif" fill="#707070" stroke="#707070" stroke-width="0.3">80.0%</text>
<line x1="288.0" y1="1009.8" x2="1562.0" y2="1009.8" stroke="#dcdcdc" stroke-width="1.5"/>
<text transform="translate(257.4,1016.4) scale(1.36,1)" text-anchor="end" font-size="18.2" letter-spacing="1" font-family="'Liberation Sans',sans-serif" fill="#707070" stroke="#707070" stroke-width="0.3">90.0%</text>
<line x1="288.0" y1="972.1" x2="1562.0" y2="972.1" stroke="#dcdcdc" stroke-width="1.5"/>
<text transform="translate(257.4,978.7) scale(1.36,1)" text-anchor="end" font-size="18.2" letter-spacing="1" font-family="'Liberation Sans',sans-serif" fill="#707070" stroke="#707070" stroke-width="0.3">100.0%</text>
<line x1="288.0" y1="934.4" x2="1562.0" y2="934.4" stroke="#dcdcdc" stroke-width="1.5"/>
<text transform="translate(257.4,941.0) scale(1.36,1)" text-anchor="end" font-size="18.2" letter-spacing="1" font-family="'Liberation Sans',sans-serif" fill="#707070" stroke="#707070" stroke-width="0.3">110.0%</text>
<line x1="288.0" y1="896.8" x2="1562.0" y2="896.8" stroke="#dcdcdc" stroke-width="1.5"/>
<text transform="translate(257.4,903.4) scale(1.36,1)" text-anchor="end" font-size="18.2" letter-spacing="1" font-family="'Liberation Sans',sans-serif" fill="#707070" stroke="#707070" stroke-width="0.3">120.0%</text>
<line x1="288.0" y1="859.1" x2="1562.0" y2="859.1" stroke="#dcdcdc" stroke-width="1.5"/>
<text transform="translate(257.4,865.7) scale(1.36,1)" text-anchor="end" font-size="18.2" letter-spacing="1" font-family="'Liberation Sans',sans-serif" fill="#707070" stroke="#707070" stroke-width="0.3">130.0%</text>
<line x1="287.2" y1="1348.6" x2="287.2" y2="1353.0" stroke="#cfcfcf" stroke-width="1.2"/>
<line x1="327.0" y1="1348.6" x2="327.0" y2="1353.0" stroke="#cfcfcf" stroke-width="1.2"/>
<line x1="366.8" y1="1348.6" x2="366.8" y2="1353.0" stroke="#cfcfcf" stroke-width="1.2"/>
<line x1="406.6" y1="1348.6" x2="406.6" y2="1353.0" stroke="#cfcfcf" stroke-width="1.2"/>
<line x1="446.4" y1="1348.6" x2="446.4" y2="1353.0" stroke="#cfcfcf" stroke-width="1.2"/>
<line x1="486.2" y1="1348.6" x2="486.2" y2="1353.0" stroke="#cfcfcf" stroke-width="1.2"/>
<line x1="526.0" y1="1348.6" x2="526.0" y2="1353.0" stroke="#cfcfcf" stroke-width="1.2"/>
<line x1="565.8" y1="1348.6" x2="565.8" y2="1353.0" stroke="#cfcfcf" stroke-width="1.2"/>
<line x1="605.6" y1="1348.6" x2="605.6" y2="1353.0" stroke="#cfcfcf" stroke-width="1.2"/>
<line x1="645.4" y1="1348.6" x2="645.4" y2="1353.0" stroke="#cfcfcf" stroke-width="1.2"/>
<line x1="685.2" y1="1348.6" x2="685.2" y2="1353.0" stroke="#cfcfcf" stroke-width="1.2"/>
<line x1="725.0" y1="1348.6" x2="725.0" y2="1353.0" stroke="#cfcfcf" stroke-width="1.2"/>
<line x1="764.8" y1="1348.6" x2="764.8" y2="1353.0" stroke="#cfcfcf" stroke-width="1.2"/>
<line x1="804.6" y1="1348.6" x2="804.6" y2="1353.0" stroke="#cfcfcf" stroke-width="1.2"/>
<line x1="844.4" y1="1348.6" x2="844.4" y2="1353.0" stroke="#cfcfcf" stroke-width="1.2"/>
<line x1="884.2" y1="1348.6" x2="884.2" y2="1353.0" stroke="#cfcfcf" stroke-width="1.2"/>
<line x1="924.0" y1="1348.6" x2="924.0" y2="1353.0" stroke="#cfcfcf" stroke-width="1.2"/>
<line x1="963.8" y1="1348.6" x2="963.8" y2="1353.0" stroke="#cfcfcf" stroke-width="1.2"/>
<line x1="1003.6" y1="1348.6" x2="1003.6" y2="1353.0" stroke="#cfcfcf" stroke-width="1.2"/>
<line x1="1043.4" y1="1348.6" x2="1043.4" y2="1353.0" stroke="#cfcfcf" stroke-width="1.2"/>
<line x1="1083.2" y1="1348.6" x2="1083.2" y2="1353.0" stroke="#cfcfcf" stroke-width="1.2"/>
<line x1="1123.0" y1="1348.6" x2="1123.0" y2="1353.0" stroke="#cfcfcf" stroke-width="1.2"/>
<line x1="1162.8" y1="1348.6" x2="1162.8" y2="1353.0" stroke="#cfcfcf" stroke-width="1.2"/>
<line x1="1202.6" y1="1348.6" x2="1202.6" y2="1353.0" stroke="#cfcfcf" stroke-width="1.2"/>
<line x1="1242.4" y1="1348.6" x2="1242.4" y2="1353.0" stroke="#cfcfcf" stroke-width="1.2"/>
<line x1="1282.2" y1="1348.6" x2="1282.2" y2="1353.0" stroke="#cfcfcf" stroke-width="1.2"/>
<line x1="1322.0" y1="1348.6" x2="1322.0" y2="1353.0" stroke="#cfcfcf" stroke-width="1.2"/>
<line x1="1361.8" y1="1348.6" x2="1361.8" y2="1353.0" stroke="#cfcfcf" stroke-width="1.2"/>
<line x1="1401.6" y1="1348.6" x2="1401.6" y2="1353.0" stroke="#cfcfcf" stroke-width="1.2"/>
<line x1="1441.4" y1="1348.6" x2="1441.4" y2="1353.0" stroke="#cfcfcf" stroke-width="1.2"/>
<line x1="1481.2" y1="1348.6" x2="1481.2" y2="1353.0" stroke="#cfcfcf" stroke-width="1.2"/>
<line x1="1521.0" y1="1348.6" x2="1521.0" y2="1353.0" stroke="#cfcfcf" stroke-width="1.2"/>
<line x1="1560.8" y1="1348.6" x2="1560.8" y2="1353.0" stroke="#cfcfcf" stroke-width="1.2"/>
<text transform="translate(289.9,1385) scale(1.5,1)" text-anchor="middle" font-size="16.8" letter-spacing="1" font-family="'Liberation Sans',sans-serif" fill="#7a7a7a" stroke="#7a7a7a" stroke-width="0.3">0</text>
<text transform="translate(369.5,1385) scale(1.5,1)" text-anchor="middle" font-size="16.8" letter-spacing="1" font-family="'Liberation Sans',sans-serif" fill="#7a7a7a" stroke="#7a7a7a" stroke-width="0.3">100</text>
<text transform="translate(449.1,1385) scale(1.5,1)" text-anchor="middle" font-size="16.8" letter-spacing="1" font-family="'Liberation Sans',sans-serif" fill="#7a7a7a" stroke="#7a7a7a" stroke-width="0.3">200</text>
<text transform="translate(528.7,1385) scale(1.5,1)" text-anchor="middle" font-size="16.8" letter-spacing="1" font-family="'Liberation Sans',sans-serif" fill="#7a7a7a" stroke="#7a7a7a" stroke-width="0.3">300</text>
<text transform="translate(608.3,1385) scale(1.5,1)" text-anchor="middle" font-size="16.8" letter-spacing="1" font-family="'Liberation Sans',sans-serif" fill="#7a7a7a" stroke="#7a7a7a" stroke-width="0.3">400</text>
<text transform="translate(687.9,1385) scale(1.5,1)" text-anchor="middle" font-size="16.8" letter-spacing="1" font-family="'Liberation Sans',sans-serif" fill="#7a7a7a" stroke="#7a7a7a" stroke-width="0.3">500</text>
<text transform="translate(767.5,1385) scale(1.5,1)" text-anchor="middle" font-size="16.8" letter-spacing="1" font-family="'Liberation Sans',sans-serif" fill="#7a7a7a" stroke="#7a7a7a" stroke-width="0.3">600</text>
<text transform="translate(847.1,1385) scale(1.5,1)" text-anchor="middle" font-size="16.8" letter-spacing="1" font-family="'Liberation Sans',sans-serif" fill="#7a7a7a" stroke="#7a7a7a" stroke-width="0.3">700</text>
<text transform="translate(926.7,1385) scale(1.5,1)" text-anchor="middle" font-size="16.8" letter-spacing="1" font-family="'Liberation Sans',sans-serif" fill="#7a7a7a" stroke="#7a7a7a" stroke-width="0.3">800</text>
<text transform="translate(1006.3,1385) scale(1.5,1)" text-anchor="middle" font-size="16.8" letter-spacing="1" font-family="'Liberation Sans',sans-serif" fill="#7a7a7a" stroke="#7a7a7a" stroke-width="0.3">900</text>
<text transform="translate(1085.9,1385) scale(1.5,1)" text-anchor="middle" font-size="16.8" letter-spacing="1" font-family="'Liberation Sans',sans-serif" fill="#7a7a7a" stroke="#7a7a7a" stroke-width="0.3">1000</text>
<text transform="translate(1165.5,1385) scale(1.5,1)" text-anchor="middle" font-size="16.8" letter-spacing="1" font-family="'Liberation Sans',sans-serif" fill="#7a7a7a" stroke="#7a7a7a" stroke-width="0.3">1100</text>
<text transform="translate(1245.1,1385) scale(1.5,1)" text-anchor="middle" font-size="16.8" letter-spacing="1" font-family="'Liberation Sans',sans-serif" fill="#7a7a7a" stroke="#7a7a7a" stroke-width="0.3">1200</text>
<text transform="translate(1324.7,1385) scale(1.5,1)" text-anchor="middle" font-size="16.8" letter-spacing="1" font-family="'Liberation Sans',sans-serif" fill="#7a7a7a" stroke="#7a7a7a" stroke-width="0.3">1300</text>
<text transform="translate(1404.3,1385) scale(1.5,1)" text-anchor="middle" font-size="16.8" letter-spacing="1" font-family="'Liberation Sans',sans-serif" fill="#7a7a7a" stroke="#7a7a7a" stroke-width="0.3">1400</text>
<text transform="translate(1483.9,1385) scale(1.5,1)" text-anchor="middle" font-size="16.8" letter-spacing="1" font-family="'Liberation Sans',sans-serif" fill="#7a7a7a" stroke="#7a7a7a" stroke-width="0.3">1500</text>
<text transform="translate(1563.5,1385) scale(1.5,1)" text-anchor="middle" font-size="16.8" letter-spacing="1" font-family="'Liberation Sans',sans-serif" fill="#7a7a7a" stroke="#7a7a7a" stroke-width="0.3">1600</text>
<text transform="translate(842.5,1420.2) scale(1.3722,1)" font-size="21.11" font-family="'Liberation Sans',sans-serif" font-weight="normal" letter-spacing="2.00" fill="#6a6a6a" >循环次数/次</text>
<text transform="translate(0,2209.9) rotate(-90) translate(1046.6,137.6) scale(0.5474,1)" font-size="33.89" font-family="'Liberation Sans',sans-serif" font-weight="normal" letter-spacing="0.00" fill="#8a8a8a" >容量百分比/%</text>
<polyline points="287.2,922.8 327.0,897.6 366.8,889.3 406.6,891.9 446.4,899.1 486.2,901.3 526.0,903.2 565.8,909.6 605.6,914.5 645.4,916.0 685.2,919.4 725.0,922.8 764.8,920.5 804.6,923.9 844.4,926.9 884.2,932.6 924.0,940.9 963.8,942.4 1003.6,943.1 1043.4,944.6 1083.2,947.6 1123.0,952.1 1162.8,955.9 1202.6,959.3 1242.4,963.4 1282.2,968.0 1322.0,975.9 1361.8,984.5 1401.6,989.4 1441.4,999.6 1481.2,1009.0 1521.0,1004.5 1560.8,1013.9" fill="none" stroke="#c9474b" stroke-width="3.2" stroke-linejoin="round"/>
<circle cx="287.2" cy="922.8" r="5.5" fill="#c9474b"/>
<circle cx="327.0" cy="897.6" r="5.5" fill="#c9474b"/>
<circle cx="366.8" cy="889.3" r="5.5" fill="#c9474b"/>
<circle cx="406.6" cy="891.9" r="5.5" fill="#c9474b"/>
<circle cx="446.4" cy="899.1" r="5.5" fill="#c9474b"/>
<circle cx="486.2" cy="901.3" r="5.5" fill="#c9474b"/>
<circle cx="526.0" cy="903.2" r="5.5" fill="#c9474b"/>
<circle cx="565.8" cy="909.6" r="5.5" fill="#c9474b"/>
<circle cx="605.6" cy="914.5" r="5.5" fill="#c9474b"/>
<circle cx="645.4" cy="916.0" r="5.5" fill="#c9474b"/>
<circle cx="685.2" cy="919.4" r="5.5" fill="#c9474b"/>
<circle cx="725.0" cy="922.8" r="5.5" fill="#c9474b"/>
<circle cx="764.8" cy="920.5" r="5.5" fill="#c9474b"/>
<circle cx="804.6" cy="923.9" r="5.5" fill="#c9474b"/>
<circle cx="844.4" cy="926.9" r="5.5" fill="#c9474b"/>
<circle cx="884.2" cy="932.6" r="5.5" fill="#c9474b"/>
<circle cx="924.0" cy="940.9" r="5.5" fill="#c9474b"/>
<circle cx="963.8" cy="942.4" r="5.5" fill="#c9474b"/>
<circle cx="1003.6" cy="943.1" r="5.5" fill="#c9474b"/>
<circle cx="1043.4" cy="944.6" r="5.5" fill="#c9474b"/>
<circle cx="1083.2" cy="947.6" r="5.5" fill="#c9474b"/>
<circle cx="1123.0" cy="952.1" r="5.5" fill="#c9474b"/>
<circle cx="1162.8" cy="955.9" r="5.5" fill="#c9474b"/>
<circle cx="1202.6" cy="959.3" r="5.5" fill="#c9474b"/>
<circle cx="1242.4" cy="963.4" r="5.5" fill="#c9474b"/>
<circle cx="1282.2" cy="968.0" r="5.5" fill="#c9474b"/>
<circle cx="1322.0" cy="975.9" r="5.5" fill="#c9474b"/>
<circle cx="1361.8" cy="984.5" r="5.5" fill="#c9474b"/>
<circle cx="1401.6" cy="989.4" r="5.5" fill="#c9474b"/>
<circle cx="1441.4" cy="999.6" r="5.5" fill="#c9474b"/>
<circle cx="1481.2" cy="1009.0" r="5.5" fill="#c9474b"/>
<circle cx="1521.0" cy="1004.5" r="5.5" fill="#c9474b"/>
<circle cx="1560.8" cy="1013.9" r="5.5" fill="#c9474b"/>
<rect x="378.0" y="1050.0" width="934.0" height="210.0" fill="#fff" stroke="#2b2b2b" stroke-width="2.5"/>
<line x1="378.0" y1="1085.0" x2="1312.0" y2="1085.0" stroke="#2b2b2b" stroke-width="2.2"/>
<line x1="378.0" y1="1120.5" x2="1312.0" y2="1120.5" stroke="#2b2b2b" stroke-width="2.2"/>
<line x1="378.0" y1="1155.0" x2="1312.0" y2="1155.0" stroke="#2b2b2b" stroke-width="2.2"/>
<line x1="378.0" y1="1190.6" x2="1312.0" y2="1190.6" stroke="#2b2b2b" stroke-width="2.2"/>
<line x1="378.0" y1="1225.6" x2="1312.0" y2="1225.6" stroke="#2b2b2b" stroke-width="2.2"/>
<line x1="559.0" y1="1085.0" x2="559.0" y2="1260.0" stroke="#2b2b2b" stroke-width="2.2"/>
<line x1="920.0" y1="1085.0" x2="920.0" y2="1260.0" stroke="#2b2b2b" stroke-width="2.2"/>
<text transform="translate(749.0,1076.8) scale(1.3028,1)" font-size="20.02" font-family="'Liberation Mono',monospace" font-weight="normal" letter-spacing="6.00" fill="#262626" stroke="#262626" stroke-width="0.5" stroke-linejoin="round">寿命循环方式</text>
<text transform="translate(406.5,1108.8) scale(1.3882,1)" font-size="18.57" font-family="'Liberation Mono',monospace" font-weight="normal" letter-spacing="6.00" fill="#262626" stroke="#262626" stroke-width="0.5" stroke-linejoin="round">循环次数</text>
<text transform="translate(709.7,1112.4) scale(1.3068,1)" font-size="20.07" font-family="'Liberation Mono',monospace" font-weight="normal" letter-spacing="6.00" fill="#262626" stroke="#262626" stroke-width="0.5" stroke-linejoin="round">充电</text>
<text transform="translate(1084.4,1112.4) scale(1.3348,1)" font-size="20.07" font-family="'Liberation Mono',monospace" font-weight="normal" letter-spacing="6.00" fill="#262626" stroke="#262626" stroke-width="0.5" stroke-linejoin="round">放电</text>
<text transform="translate(462.4,1144.0) scale(0.8579,1)" font-size="20.50" font-family="'Liberation Mono',monospace" font-weight="normal" letter-spacing="1.50" fill="#262626" stroke="#262626" stroke-width="0.5" stroke-linejoin="round">1</text>
<text transform="translate(628.2,1144.0) scale(1.3564,1)" font-size="20.50" font-family="'Liberation Mono',monospace" font-weight="normal" letter-spacing="1.50" fill="#262626" stroke="#262626" stroke-width="0.5" stroke-linejoin="round">0.25ItA充电6h</text>
<text transform="translate(987.5,1144.0) scale(1.3503,1)" font-size="20.50" font-family="'Liberation Mono',monospace" font-weight="normal" letter-spacing="1.50" fill="#262626" stroke="#262626" stroke-width="0.5" stroke-linejoin="round">0.25ItA放电2.5h</text>
<text transform="translate(435.3,1179.7) scale(1.3039,1)" font-size="20.50" font-family="'Liberation Mono',monospace" font-weight="normal" letter-spacing="1.50" fill="#262626" stroke="#262626" stroke-width="0.5" stroke-linejoin="round">2~48</text>
<text transform="translate(610.4,1179.7) scale(1.3555,1)" font-size="20.50" font-family="'Liberation Mono',monospace" font-weight="normal" letter-spacing="1.50" fill="#262626" stroke="#262626" stroke-width="0.5" stroke-linejoin="round">0.5ItA充电1.75h</text>
<text transform="translate(987.5,1179.7) scale(1.3503,1)" font-size="20.50" font-family="'Liberation Mono',monospace" font-weight="normal" letter-spacing="1.50" fill="#262626" stroke="#262626" stroke-width="0.5" stroke-linejoin="round">0.5ItA放电1.25h</text>
<text transform="translate(451.8,1215.4) scale(1.4001,1)" font-size="20.50" font-family="'Liberation Mono',monospace" font-weight="normal" letter-spacing="1.50" fill="#262626" stroke="#262626" stroke-width="0.5" stroke-linejoin="round">49</text>
<text transform="translate(610.4,1215.4) scale(1.3555,1)" font-size="20.50" font-family="'Liberation Mono',monospace" font-weight="normal" letter-spacing="1.50" fill="#262626" stroke="#262626" stroke-width="0.5" stroke-linejoin="round">0.5ItA充电1.75h</text>
<text transform="translate(979.9,1215.4) scale(1.3490,1)" font-size="20.50" font-family="'Liberation Mono',monospace" font-weight="normal" letter-spacing="1.50" fill="#262626" stroke="#262626" stroke-width="0.5" stroke-linejoin="round">0.5ItA放电至1.0v</text>
<text transform="translate(450.8,1250.0) scale(1.4425,1)" font-size="20.50" font-family="'Liberation Mono',monospace" font-weight="normal" letter-spacing="1.50" fill="#262626" stroke="#262626" stroke-width="0.5" stroke-linejoin="round">50</text>
<text transform="translate(635.8,1250.0) scale(1.3776,1)" font-size="20.50" font-family="'Liberation Mono',monospace" font-weight="normal" letter-spacing="1.50" fill="#262626" stroke="#262626" stroke-width="0.5" stroke-linejoin="round">0.2ItA充电7h</text>
<text transform="translate(1005.4,1250.0) scale(1.3543,1)" font-size="20.50" font-family="'Liberation Mono',monospace" font-weight="normal" letter-spacing="1.50" fill="#262626" stroke="#262626" stroke-width="0.5" stroke-linejoin="round">0.2It放电1.0v</text>
<text transform="translate(106.0,1593.5) scale(1.0000,1)" font-size="55.97" font-family="'Liberation Sans',sans-serif" font-weight="normal" letter-spacing="6.02" fill="#231f20" stroke="#231f20" stroke-width="1.2" stroke-linejoin="round">氢镍电池与镉镍烧结电池</text>
<text transform="translate(824.8,1598.7) scale(1.0000,1)" font-size="69.90" font-family="'Liberation Sans',sans-serif" font-weight="normal" letter-spacing="-2.70" fill="#231f20" stroke="#231f20" stroke-width="0.6" stroke-linejoin="round">40℃</text>
<text transform="translate(975.8,1592.5) scale(1.0000,1)" font-size="54.06" font-family="'Liberation Sans',sans-serif" font-weight="normal" letter-spacing="8.07" fill="#231f20" stroke="#231f20" stroke-width="1.2" stroke-linejoin="round">低温下充放电数据对比</text>
<rect x="788.0" y="1570.6" width="30.0" height="6.8" fill="#231f20" stroke="none" stroke-width="1"/>
<text transform="translate(266.0,1734.8) scale(1.0000,1)" font-size="34.11" font-family="'Liberation Sans',sans-serif" font-weight="normal" letter-spacing="9.12" fill="#231f20" stroke="#231f20" stroke-width="1.0" stroke-linejoin="round">放电曲线及温度曲线</text>
<text transform="translate(1076.5,1735.5) scale(1.0000,1)" font-size="37.95" font-family="'Liberation Sans',sans-serif" font-weight="normal" letter-spacing="3.80" fill="#231f20" stroke="#231f20" stroke-width="1.0" stroke-linejoin="round">低温</text>
<text transform="translate(1183.8,1740.0) scale(1.0000,1)" font-size="45.44" font-family="'Liberation Sans',sans-serif" font-weight="normal" letter-spacing="1.60" fill="#231f20" >40℃</text>
<text transform="translate(1286.0,1737.0) scale(1.0000,1)" font-size="37.07" font-family="'Liberation Sans',sans-serif" font-weight="normal" letter-spacing="6.33" fill="#231f20" stroke="#231f20" stroke-width="1.0" stroke-linejoin="round">充电曲线</text>
<rect x="1159.0" y="1720.2" width="20.7" height="3.8" fill="#231f20" stroke="none" stroke-width="1"/>
<line x1="181.8" y1="2153.0" x2="761.0" y2="2153.0" stroke="#a9a9a9" stroke-width="1.8"/>
<text x="172.0" y="2157.8" font-size="13" fill="#444" text-anchor="end" font-weight="normal" letter-spacing="0" font-family="'Liberation Sans',sans-serif" >1.00</text>
<line x1="181.8" y1="2108.4" x2="761.0" y2="2108.4" stroke="#a9a9a9" stroke-width="1.8"/>
<text x="172.0" y="2113.2" font-size="13" fill="#444" text-anchor="end" font-weight="normal" letter-spacing="0" font-family="'Liberation Sans',sans-serif" >1.05</text>
<line x1="181.8" y1="2063.9" x2="761.0" y2="2063.9" stroke="#a9a9a9" stroke-width="1.8"/>
<text x="172.0" y="2068.7" font-size="13" fill="#444" text-anchor="end" font-weight="normal" letter-spacing="0" font-family="'Liberation Sans',sans-serif" >1.10</text>
<line x1="181.8" y1="2019.3" x2="761.0" y2="2019.3" stroke="#dedede" stroke-width="3"/>
<text x="172.0" y="2024.1" font-size="13" fill="#444" text-anchor="end" font-weight="normal" letter-spacing="0" font-family="'Liberation Sans',sans-serif" >1.15</text>
<line x1="181.8" y1="1974.8" x2="761.0" y2="1974.8" stroke="#a9a9a9" stroke-width="1.8"/>
<text x="172.0" y="1979.6" font-size="13" fill="#444" text-anchor="end" font-weight="normal" letter-spacing="0" font-family="'Liberation Sans',sans-serif" >1.20</text>
<line x1="181.8" y1="1930.2" x2="761.0" y2="1930.2" stroke="#a9a9a9" stroke-width="1.8"/>
<text x="172.0" y="1935.0" font-size="13" fill="#444" text-anchor="end" font-weight="normal" letter-spacing="0" font-family="'Liberation Sans',sans-serif" >1.25</text>
<line x1="181.8" y1="1885.7" x2="761.0" y2="1885.7" stroke="#a9a9a9" stroke-width="1.8"/>
<text x="172.0" y="1890.5" font-size="13" fill="#444" text-anchor="end" font-weight="normal" letter-spacing="0" font-family="'Liberation Sans',sans-serif" >1.30</text>
<line x1="181.8" y1="1841.2" x2="761.0" y2="1841.2" stroke="#dedede" stroke-width="3"/>
<text x="172.0" y="1846.0" font-size="13" fill="#444" text-anchor="end" font-weight="normal" letter-spacing="0" font-family="'Liberation Sans',sans-serif" >1.35</text>
<line x1="181.8" y1="1796.6" x2="761.0" y2="1796.6" stroke="#c4c4c4" stroke-width="1.6"/>
<text x="172.0" y="1801.4" font-size="13" fill="#444" text-anchor="end" font-weight="normal" letter-spacing="0" font-family="'Liberation Sans',sans-serif" >1.40</text>
<line x1="185.8" y1="1796.6" x2="185.8" y2="2157.0" stroke="#a9a9a9" stroke-width="1.5"/>
<line x1="185.8" y1="2153.0" x2="185.8" y2="2157.0" stroke="#a9a9a9" stroke-width="1.2"/>
<text x="185.8" y="2180.5" font-size="12.5" fill="#444" text-anchor="middle" font-weight="normal" letter-spacing="0" font-family="'Liberation Sans',sans-serif" >0:00</text>
<line x1="249.5" y1="2153.0" x2="249.5" y2="2157.0" stroke="#a9a9a9" stroke-width="1.2"/>
<text x="249.5" y="2180.5" font-size="12.5" fill="#444" text-anchor="middle" font-weight="normal" letter-spacing="0" font-family="'Liberation Sans',sans-serif" >1:00</text>
<line x1="313.2" y1="2153.0" x2="313.2" y2="2157.0" stroke="#a9a9a9" stroke-width="1.2"/>
<text x="313.2" y="2180.5" font-size="12.5" fill="#444" text-anchor="middle" font-weight="normal" letter-spacing="0" font-family="'Liberation Sans',sans-serif" >2:00</text>
<line x1="376.9" y1="2153.0" x2="376.9" y2="2157.0" stroke="#a9a9a9" stroke-width="1.2"/>
<text x="376.9" y="2180.5" font-size="12.5" fill="#444" text-anchor="middle" font-weight="normal" letter-spacing="0" font-family="'Liberation Sans',sans-serif" >3:00</text>
<line x1="440.6" y1="2153.0" x2="440.6" y2="2157.0" stroke="#a9a9a9" stroke-width="1.2"/>
<text x="440.6" y="2180.5" font-size="12.5" fill="#444" text-anchor="middle" font-weight="normal" letter-spacing="0" font-family="'Liberation Sans',sans-serif" >4:00</text>
<line x1="504.3" y1="2153.0" x2="504.3" y2="2157.0" stroke="#a9a9a9" stroke-width="1.2"/>
<text x="504.3" y="2180.5" font-size="12.5" fill="#444" text-anchor="middle" font-weight="normal" letter-spacing="0" font-family="'Liberation Sans',sans-serif" >5:00</text>
<line x1="568.0" y1="2153.0" x2="568.0" y2="2157.0" stroke="#a9a9a9" stroke-width="1.2"/>
<text x="568.0" y="2180.5" font-size="12.5" fill="#444" text-anchor="middle" font-weight="normal" letter-spacing="0" font-family="'Liberation Sans',sans-serif" >6:00</text>
<line x1="631.7" y1="2153.0" x2="631.7" y2="2157.0" stroke="#a9a9a9" stroke-width="1.2"/>
<text x="631.7" y="2180.5" font-size="12.5" fill="#444" text-anchor="middle" font-weight="normal" letter-spacing="0" font-family="'Liberation Sans',sans-serif" >7:00</text>
<line x1="695.4" y1="2153.0" x2="695.4" y2="2157.0" stroke="#a9a9a9" stroke-width="1.2"/>
<text x="695.4" y="2180.5" font-size="12.5" fill="#444" text-anchor="middle" font-weight="normal" letter-spacing="0" font-family="'Liberation Sans',sans-serif" >8:00</text>
<line x1="759.1" y1="2153.0" x2="759.1" y2="2157.0" stroke="#a9a9a9" stroke-width="1.2"/>
<text x="759.1" y="2180.5" font-size="12.5" fill="#444" text-anchor="middle" font-weight="normal" letter-spacing="0" font-family="'Liberation Sans',sans-serif" >9:00</text>
<text x="472.0" y="2208.0" font-size="14" fill="#333" text-anchor="middle" font-weight="bold" letter-spacing="0" font-family="'Liberation Sans',sans-serif" >时间/h:min</text>
<text transform="translate(147.0,1785.0) scale(1.1037,1)" font-size="20.00" font-family="'Liberation Sans',sans-serif" font-weight="normal" letter-spacing="0.00" fill="#333" >电压/V</text>
<text transform="translate(346.0,1777.7) scale(1.1876,1)" font-size="17.37" font-family="'Liberation Sans',sans-serif" font-weight="bold" letter-spacing="0.50" fill="#333" stroke="#333" stroke-width="0.3" stroke-linejoin="round">氢镍和镉镍低温-40℃0.1It放电曲线</text>
<path d="M186.4,1806.5 L186.4,1808.4 L186.4,1809.6 L186.4,1811.0 L186.4,1812.5 L186.4,1814.0 L186.4,1815.5 L186.4,1817.0 L186.4,1818.5 L186.4,1820.0 L186.5,1821.5 L186.5,1823.0 L186.5,1824.5 L186.5,1826.0 L186.5,1827.5 L186.5,1829.0 L186.5,1830.5 L186.5,1832.0 L186.5,1833.5 L186.6,1835.0 L186.6,1836.5 L186.6,1838.0 L186.6,1839.5 L186.7,1841.0 L186.7,1842.5 L186.7,1844.0 L186.7,1845.5 L186.8,1847.0 L186.9,1848.5 L186.9,1850.0 L187.1,1851.5 L187.2,1852.9 L187.4,1854.4 L187.7,1855.9 L187.9,1857.4 L188.2,1858.9 L188.5,1860.3 L188.8,1861.8 L189.2,1863.3 L189.5,1864.7 L189.9,1866.2 L190.2,1867.7 L190.6,1869.1 L191.0,1870.6 L191.3,1872.1 L191.7,1873.5 L192.0,1875.0 L192.4,1876.5 L192.7,1877.9 L193.1,1879.4 L193.5,1880.9 L193.9,1882.4 L194.2,1883.9 L194.7,1885.3 L195.1,1886.8 L195.5,1888.3 L196.0,1889.7 L196.5,1891.1 L197.0,1892.5 L197.5,1893.9 L198.0,1895.3 L198.6,1896.6 L199.2,1897.9 L199.9,1899.2 L200.7,1900.4 L201.5,1901.6 L202.4,1902.8 L203.4,1904.0 L204.4,1905.1 L205.4,1906.3 L206.4,1907.4 L207.5,1908.5 L208.6,1909.5 L209.6,1910.6 L210.7,1911.6 L211.8,1912.6 L213.0,1913.6 L214.1,1914.6 L215.3,1915.5 L216.4,1916.5 L217.6,1917.4 L218.8,1918.4 L219.9,1919.3 L221.1,1920.3 L222.2,1921.3 L223.3,1922.3 L224.4,1923.3 L225.5,1924.4 L226.5,1925.4 L227.6,1926.5 L228.7,1927.6 L229.7,1928.6 L230.7,1929.7 L231.8,1930.8 L232.8,1931.9 L233.9,1932.9 L234.9,1934.0 L236.0,1935.0 L237.1,1936.1 L238.2,1937.1 L239.2,1938.2 L240.3,1939.2 L241.4,1940.3 L242.5,1941.3 L243.6,1942.4 L244.7,1943.4 L245.7,1944.5 L246.8,1945.5 L247.9,1946.6 L249.0,1947.6 L250.2,1948.6 L251.3,1949.6 L252.4,1950.6 L253.6,1951.5 L254.7,1952.4 L255.9,1953.3 L257.1,1954.2 L258.3,1955.1 L259.5,1956.0 L260.7,1956.8 L262.0,1957.6 L263.2,1958.5 L264.5,1959.3 L265.7,1960.1 L267.0,1960.9 L268.3,1961.7 L269.6,1962.5 L270.9,1963.3 L272.2,1964.0 L273.6,1964.8 L274.9,1965.5 L276.2,1966.2 L277.6,1966.9 L278.9,1967.6 L280.3,1968.2 L281.6,1968.9 L283.0,1969.5 L284.3,1970.1 L285.7,1970.6 L287.1,1971.2 L288.4,1971.8 L289.8,1972.3 L291.2,1972.8 L292.6,1973.3 L294.0,1973.8 L295.4,1974.3 L296.8,1974.8 L298.3,1975.3 L299.7,1975.8 L301.1,1976.3 L302.6,1976.7 L304.0,1977.2 L305.4,1977.6 L306.9,1978.1 L308.4,1978.5 L309.8,1978.9 L311.3,1979.3 L312.7,1979.7 L314.2,1980.1 L315.6,1980.4 L317.1,1980.8 L318.6,1981.1 L320.0,1981.5 L321.5,1981.8 L323.0,1982.1 L324.4,1982.4 L325.9,1982.7 L327.4,1983.0 L328.8,1983.3 L330.3,1983.5 L331.8,1983.8 L333.2,1984.0 L334.7,1984.3 L336.2,1984.5 L337.7,1984.7 L339.2,1984.9 L340.6,1985.2 L342.1,1985.4 L343.6,1985.6 L345.1,1985.8 L346.6,1986.0 L348.1,1986.2 L349.6,1986.4 L351.1,1986.6 L352.6,1986.8 L354.0,1987.0 L355.5,1987.2 L357.0,1987.4 L358.5,1987.6 L360.0,1987.8 L361.5,1988.0 L363.0,1988.3 L364.5,1988.5 L365.9,1988.7 L367.4,1988.9 L368.9,1989.2 L370.4,1989.4 L371.9,1989.6 L373.3,1989.9 L374.8,1990.1 L376.3,1990.3 L377.8,1990.6 L379.3,1990.8 L380.8,1991.0 L382.2,1991.3 L383.7,1991.5 L385.2,1991.7 L386.7,1992.0 L388.2,1992.2 L389.6,1992.4 L391.1,1992.7 L392.6,1992.9 L394.1,1993.1 L395.6,1993.4 L397.1,1993.6 L398.5,1993.8 L400.0,1994.1 L401.5,1994.3 L403.0,1994.6 L404.5,1994.8 L405.9,1995.0 L407.4,1995.3 L408.9,1995.5 L410.4,1995.8 L411.9,1996.0 L413.3,1996.3 L414.8,1996.5 L416.3,1996.8 L417.8,1997.0 L419.2,1997.3 L420.7,1997.5 L422.2,1997.8 L423.7,1998.1 L425.1,1998.3 L426.6,1998.6 L428.1,1998.9 L429.6,1999.1 L431.0,1999.4 L432.5,1999.7 L434.0,1999.9 L435.5,2000.2 L436.9,2000.5 L438.4,2000.8 L439.9,2001.0 L441.4,2001.3 L442.8,2001.6 L444.3,2001.9 L445.8,2002.1 L447.3,2002.4 L448.7,2002.7 L450.2,2003.0 L451.7,2003.3 L453.2,2003.6 L454.6,2003.8 L456.1,2004.1 L457.6,2004.4 L459.1,2004.7 L460.5,2005.0 L462.0,2005.3 L463.5,2005.6 L465.0,2005.8 L466.4,2006.1 L467.9,2006.4 L469.4,2006.7 L470.8,2007.0 L472.3,2007.3 L473.8,2007.6 L475.3,2007.9 L476.7,2008.2 L478.2,2008.5 L479.7,2008.8 L481.2,2009.1 L482.6,2009.4 L484.1,2009.7 L485.6,2010.0 L487.0,2010.3 L488.5,2010.6 L490.0,2011.0 L491.4,2011.3 L492.9,2011.6 L494.4,2011.9 L495.9,2012.2 L497.3,2012.5 L498.8,2012.9 L500.3,2013.2 L501.7,2013.5 L503.2,2013.8 L504.6,2014.2 L506.1,2014.5 L507.6,2014.8 L509.0,2015.1 L510.5,2015.5 L512.0,2015.8 L513.4,2016.2 L514.9,2016.5 L516.3,2016.8 L517.8,2017.2 L519.3,2017.5 L520.7,2017.9 L522.2,2018.2 L523.6,2018.6 L525.1,2018.9 L526.5,2019.3 L528.0,2019.6 L529.5,2020.0 L530.9,2020.4 L532.4,2020.7 L533.8,2021.1 L535.3,2021.4 L536.7,2021.8 L538.2,2022.2 L539.6,2022.6 L541.1,2022.9 L542.5,2023.3 L543.9,2023.7 L545.4,2024.1 L546.8,2024.5 L548.3,2024.8 L549.7,2025.2 L551.2,2025.6 L552.6,2026.0 L554.1,2026.4 L555.5,2026.8 L556.9,2027.2 L558.4,2027.6 L559.8,2028.0 L561.3,2028.4 L562.7,2028.9 L564.2,2029.3 L565.6,2029.7 L567.1,2030.1 L568.5,2030.5 L570.0,2031.0 L571.4,2031.4 L572.9,2031.8 L574.3,2032.3 L575.8,2032.7 L577.2,2033.2 L578.6,2033.6 L580.1,2034.1 L581.5,2034.5 L582.9,2035.0 L584.4,2035.5 L585.8,2036.0 L587.2,2036.4 L588.7,2036.9 L590.1,2037.4 L591.5,2037.9 L592.9,2038.4 L594.4,2038.9 L595.8,2039.4 L597.2,2039.9 L598.6,2040.4 L600.0,2040.9 L601.4,2041.5 L602.8,2042.0 L604.2,2042.5 L605.6,2043.1 L607.0,2043.6 L608.4,2044.2 L609.7,2044.7 L611.1,2045.3 L612.5,2045.8 L613.9,2046.4 L615.2,2047.0 L616.6,2047.6 L618.0,2048.2 L619.3,2048.8 L620.7,2049.4 L622.0,2050.0 L623.4,2050.7 L624.8,2051.3 L626.1,2052.0 L627.5,2052.7 L628.8,2053.4 L630.2,2054.1 L631.5,2054.8 L632.8,2055.5 L634.2,2056.3 L635.5,2057.0 L636.8,2057.8 L638.1,2058.5 L639.4,2059.3 L640.6,2060.1 L641.9,2060.9 L643.1,2061.8 L644.4,2062.6 L645.6,2063.4 L646.8,2064.3 L648.0,2065.2 L649.1,2066.0 L650.3,2066.9 L651.4,2067.9 L652.6,2068.8 L653.7,2069.7 L654.8,2070.7 L656.0,2071.7 L657.1,2072.7 L658.2,2073.7 L659.3,2074.7 L660.4,2075.8 L661.4,2076.8 L662.5,2077.9 L663.6,2079.0 L664.6,2080.1 L665.7,2081.2 L666.7,2082.3 L667.8,2083.4 L668.8,2084.5 L669.8,2085.7 L670.8,2086.8 L671.8,2088.0 L672.8,2089.1 L673.8,2090.3 L674.8,2091.4 L675.8,2092.6 L676.7,2093.7 L677.7,2094.9 L678.6,2096.1 L679.6,2097.2 L680.5,2098.4 L681.4,2099.6 L682.3,2100.7 L683.2,2101.9 L684.1,2103.1 L685.0,2104.3 L685.8,2105.6 L686.7,2106.8 L687.5,2108.0 L688.3,2109.3 L689.1,2110.6 L690.0,2111.8 L690.8,2113.1 L691.6,2114.4 L692.4,2115.6 L693.2,2116.9 L694.0,2118.2 L694.8,2119.5 L695.6,2120.7 L696.4,2122.0 L697.2,2123.3 L698.1,2124.5 L698.9,2125.8 L699.7,2127.0 L700.5,2128.3 L701.3,2129.5 L702.2,2130.8 L703.0,2132.0 L703.8,2133.3 L704.6,2134.5 L705.5,2135.8 L706.3,2137.1 L707.1,2138.3 L707.9,2139.6 L708.7,2140.8 L709.5,2142.1 L710.4,2143.3 L711.2,2144.6 L712.0,2145.9 L712.8,2147.1 L713.6,2148.4 L714.4,2149.6 L715.1,2150.7 L715.7,2151.7 L716.6,2153.0" fill="none" stroke="#4f81bd" stroke-width="2.6" stroke-linejoin="round" stroke-linecap="round" />
<path d="M184.8,1861.6 L185.3,1863.5 L185.5,1864.6 L185.9,1866.0 L186.2,1867.4 L186.6,1868.9 L186.9,1870.3 L187.3,1871.8 L187.6,1873.3 L187.9,1874.7 L188.3,1876.2 L188.6,1877.7 L188.9,1879.1 L189.2,1880.6 L189.5,1882.1 L189.8,1883.5 L190.1,1885.0 L190.4,1886.5 L190.7,1887.9 L191.0,1889.4 L191.2,1890.9 L191.5,1892.4 L191.7,1893.8 L192.0,1895.3 L192.2,1896.8 L192.5,1898.3 L192.7,1899.8 L193.0,1901.2 L193.2,1902.7 L193.5,1904.2 L193.7,1905.7 L194.0,1907.2 L194.2,1908.6 L194.5,1910.1 L194.7,1911.6 L195.0,1913.1 L195.2,1914.6 L195.5,1916.0 L195.8,1917.5 L196.1,1919.0 L196.4,1920.4 L196.7,1921.9 L197.0,1923.4 L197.3,1924.8 L197.6,1926.3 L197.9,1927.8 L198.2,1929.3 L198.5,1930.7 L198.9,1932.2 L199.2,1933.7 L199.5,1935.2 L199.9,1936.7 L200.2,1938.1 L200.6,1939.6 L200.9,1941.1 L201.3,1942.6 L201.7,1944.0 L202.1,1945.5 L202.6,1946.9 L203.0,1948.3 L203.5,1949.7 L203.9,1951.1 L204.5,1952.5 L205.0,1953.9 L205.6,1955.2 L206.2,1956.6 L206.8,1958.0 L207.5,1959.4 L208.3,1960.8 L209.1,1962.2 L210.0,1963.5 L210.8,1964.7 L211.8,1965.9 L212.7,1967.0 L213.7,1967.9 L214.8,1968.8 L215.9,1969.6 L217.1,1970.3 L218.4,1970.9 L219.8,1971.5 L221.2,1972.1 L222.6,1972.6 L224.1,1973.1 L225.6,1973.6 L227.1,1974.0 L228.6,1974.4 L230.1,1974.7 L231.6,1975.0 L233.0,1975.3 L234.5,1975.6 L236.0,1975.9 L237.4,1976.1 L238.9,1976.3 L240.4,1976.5 L241.9,1976.8 L243.4,1977.0 L244.9,1977.1 L246.4,1977.3 L247.9,1977.5 L249.4,1977.7 L250.9,1977.9 L252.4,1978.1 L253.8,1978.3 L255.3,1978.4 L256.8,1978.6 L258.3,1978.8 L259.8,1979.0 L261.3,1979.2 L262.8,1979.4 L264.3,1979.6 L265.8,1979.8 L267.2,1980.0 L268.7,1980.2 L270.2,1980.4 L271.7,1980.6 L273.2,1980.8 L274.7,1981.0 L276.2,1981.2 L277.6,1981.4 L279.1,1981.6 L280.6,1981.8 L282.1,1982.0 L283.6,1982.1 L285.1,1982.3 L286.6,1982.5 L288.1,1982.7 L289.6,1982.8 L291.0,1983.0 L292.5,1983.1 L294.0,1983.3 L295.5,1983.4 L297.0,1983.6 L298.5,1983.7 L300.0,1983.8 L301.5,1984.0 L303.0,1984.1 L304.5,1984.2 L306.0,1984.3 L307.5,1984.4 L309.0,1984.6 L310.5,1984.7 L312.0,1984.8 L313.4,1984.9 L314.9,1985.0 L316.4,1985.1 L317.9,1985.2 L319.4,1985.3 L320.9,1985.4 L322.4,1985.4 L323.9,1985.5 L325.4,1985.6 L326.9,1985.7 L328.4,1985.8 L329.9,1985.9 L331.4,1986.0 L332.9,1986.1 L334.4,1986.2 L335.9,1986.3 L337.4,1986.4 L338.9,1986.5 L340.4,1986.6 L341.9,1986.6 L343.4,1986.7 L344.9,1986.8 L346.4,1987.0 L347.9,1987.1 L349.4,1987.2 L350.9,1987.3 L352.4,1987.4 L353.9,1987.5 L355.4,1987.6 L356.8,1987.8 L358.3,1987.9 L359.8,1988.0 L361.3,1988.2 L362.8,1988.3 L364.3,1988.4 L365.8,1988.6 L367.3,1988.8 L368.8,1988.9 L370.2,1989.1 L371.7,1989.3 L373.2,1989.5 L374.7,1989.7 L376.2,1989.8 L377.7,1990.0 L379.2,1990.3 L380.6,1990.5 L382.1,1990.7 L383.6,1990.9 L385.1,1991.1 L386.6,1991.4 L388.0,1991.6 L389.5,1991.8 L391.0,1992.1 L392.5,1992.3 L394.0,1992.5 L395.5,1992.8 L396.9,1993.0 L398.4,1993.3 L399.9,1993.5 L401.4,1993.8 L402.9,1994.1 L404.3,1994.3 L405.8,1994.6 L407.3,1994.8 L408.8,1995.1 L410.2,1995.3 L411.7,1995.6 L413.2,1995.9 L414.7,1996.1 L416.2,1996.4 L417.6,1996.6 L419.1,1996.9 L420.6,1997.2 L422.1,1997.4 L423.6,1997.7 L425.0,1997.9 L426.5,1998.2 L428.0,1998.4 L429.5,1998.7 L431.0,1998.9 L432.4,1999.1 L433.9,1999.4 L435.4,1999.6 L436.9,1999.8 L438.4,2000.1 L439.8,2000.3 L441.3,2000.5 L442.8,2000.8 L444.3,2001.0 L445.8,2001.2 L447.2,2001.5 L448.7,2001.7 L450.2,2001.9 L451.7,2002.2 L453.2,2002.4 L454.7,2002.6 L456.1,2002.9 L457.6,2003.1 L459.1,2003.4 L460.6,2003.6 L462.1,2003.8 L463.5,2004.1 L465.0,2004.3 L466.5,2004.6 L468.0,2004.8 L469.4,2005.1 L470.9,2005.4 L472.4,2005.6 L473.9,2005.9 L475.4,2006.1 L476.8,2006.4 L478.3,2006.7 L479.8,2007.0 L481.2,2007.2 L482.7,2007.5 L484.2,2007.8 L485.7,2008.1 L487.1,2008.4 L488.6,2008.7 L490.1,2009.0 L491.5,2009.3 L493.0,2009.6 L494.5,2009.9 L495.9,2010.2 L497.4,2010.5 L498.9,2010.8 L500.3,2011.1 L501.8,2011.4 L503.3,2011.7 L504.7,2012.1 L506.2,2012.4 L507.7,2012.7 L509.1,2013.0 L510.6,2013.3 L512.1,2013.7 L513.5,2014.0 L515.0,2014.3 L516.5,2014.7 L517.9,2015.0 L519.4,2015.4 L520.8,2015.7 L522.3,2016.0 L523.8,2016.4 L525.2,2016.7 L526.7,2017.1 L528.1,2017.4 L529.6,2017.8 L531.1,2018.2 L532.5,2018.5 L534.0,2018.9 L535.4,2019.2 L536.9,2019.6 L538.3,2020.0 L539.8,2020.3 L541.2,2020.7 L542.7,2021.1 L544.1,2021.5 L545.6,2021.8 L547.0,2022.2 L548.5,2022.6 L549.9,2023.0 L551.4,2023.3 L552.8,2023.7 L554.3,2024.1 L555.7,2024.5 L557.2,2024.9 L558.7,2025.3 L560.1,2025.6 L561.6,2026.0 L563.0,2026.4 L564.5,2026.8 L565.9,2027.2 L567.4,2027.6 L568.8,2028.0 L570.3,2028.4 L571.8,2028.8 L573.2,2029.2 L574.7,2029.6 L576.1,2030.0 L577.6,2030.4 L579.0,2030.8 L580.5,2031.3 L581.9,2031.7 L583.4,2032.1 L584.8,2032.5 L586.3,2033.0 L587.7,2033.4 L589.1,2033.9 L590.6,2034.3 L592.0,2034.8 L593.4,2035.2 L594.9,2035.7 L596.3,2036.1 L597.7,2036.6 L599.1,2037.1 L600.6,2037.6 L602.0,2038.1 L603.4,2038.6 L604.8,2039.1 L606.2,2039.6 L607.6,2040.1 L609.0,2040.6 L610.4,2041.1 L611.7,2041.7 L613.1,2042.2 L614.5,2042.7 L615.9,2043.3 L617.2,2043.9 L618.6,2044.4 L620.0,2045.0 L621.3,2045.6 L622.7,2046.3 L624.1,2046.9 L625.4,2047.5 L626.8,2048.2 L628.1,2048.9 L629.5,2049.6 L630.8,2050.3 L632.2,2051.0 L633.5,2051.7 L634.8,2052.5 L636.2,2053.2 L637.5,2054.0 L638.8,2054.8 L640.0,2055.6 L641.3,2056.4 L642.6,2057.2 L643.8,2058.0 L645.0,2058.8 L646.2,2059.7 L647.4,2060.6 L648.6,2061.4 L649.8,2062.3 L650.9,2063.2 L652.1,2064.2 L653.2,2065.1 L654.3,2066.1 L655.5,2067.1 L656.6,2068.1 L657.7,2069.1 L658.8,2070.2 L659.9,2071.2 L661.0,2072.3 L662.0,2073.4 L663.1,2074.5 L664.1,2075.6 L665.2,2076.7 L666.2,2077.9 L667.2,2079.0 L668.2,2080.1 L669.2,2081.3 L670.1,2082.4 L671.1,2083.6 L672.0,2084.7 L672.9,2085.9 L673.8,2087.1 L674.7,2088.3 L675.7,2089.5 L676.6,2090.7 L677.5,2091.9 L678.4,2093.1 L679.3,2094.3 L680.2,2095.6 L681.1,2096.8 L681.9,2098.1 L682.8,2099.4 L683.6,2100.7 L684.4,2102.0 L685.1,2103.3 L685.9,2104.6 L686.6,2105.9 L687.3,2107.2 L687.9,2108.6 L688.5,2109.9 L689.1,2111.3 L689.6,2112.6 L690.1,2114.0 L690.6,2115.3 L691.1,2116.7 L691.5,2118.1 L692.0,2119.5 L692.4,2120.9 L692.9,2122.3 L693.3,2123.7 L693.8,2125.1 L694.2,2126.5 L694.6,2128.0 L695.0,2129.4 L695.4,2130.9 L695.7,2132.3 L696.1,2133.8 L696.4,2135.3 L696.8,2136.7 L697.1,2138.2 L697.4,2139.7 L697.6,2141.2 L697.9,2142.7 L698.1,2144.3 L698.3,2145.8 L698.5,2147.3 L698.7,2148.8 L698.8,2150.2 L698.9,2151.4 L699.0,2153.0" fill="none" stroke="#c0504d" stroke-width="2.6" stroke-linejoin="round" stroke-linecap="round" />
<rect x="546.3" y="1951.0" width="141.7" height="29.3" fill="#fff" stroke="#2a2a2a" stroke-width="2.5"/>
<text x="617.0" y="1970.0" font-size="11.5" fill="#444" text-anchor="middle" font-weight="normal" letter-spacing="0" font-family="'Liberation Sans',sans-serif" >GNC120烧结镉镍电池</text>
<rect x="527.3" y="2083.4" width="77.7" height="29.4" fill="#fff" stroke="#2a2a2a" stroke-width="2.5"/>
<text x="566.0" y="2102.0" font-size="12" fill="#444" text-anchor="middle" font-weight="normal" letter-spacing="0" font-family="'Liberation Sans',sans-serif" >氢镍电池</text>
<line x1="618.4" y1="2042.3" x2="625.2" y2="1994.5" stroke="#c0504d" stroke-width="2.4"/>
<polygon points="626.8,1983.6 631.2,1995.3 619.3,1993.6" fill="#c0504d"/>
<line x1="614.2" y1="2047.4" x2="596.6" y2="2075.0" stroke="#4f81bd" stroke-width="2.4"/>
<polygon points="590.7,2084.3 591.5,2071.8 601.7,2078.2" fill="#4f81bd"/>
<line x1="1019.4" y1="2157.5" x2="1558.0" y2="2157.5" stroke="#a9a9a9" stroke-width="1.8"/>
<text x="1006.6" y="2162.9" font-size="15" fill="#444" text-anchor="end" font-weight="normal" letter-spacing="0" font-family="'Liberation Sans',sans-serif" >1.35</text>
<line x1="1019.4" y1="2119.3" x2="1558.0" y2="2119.3" stroke="#dedede" stroke-width="3"/>
<text x="1006.6" y="2124.7" font-size="15" fill="#444" text-anchor="end" font-weight="normal" letter-spacing="0" font-family="'Liberation Sans',sans-serif" >1.45</text>
<line x1="1019.4" y1="2081.1" x2="1558.0" y2="2081.1" stroke="#a9a9a9" stroke-width="1.8"/>
<text x="1006.6" y="2086.5" font-size="15" fill="#444" text-anchor="end" font-weight="normal" letter-spacing="0" font-family="'Liberation Sans',sans-serif" >1.55</text>
<line x1="1019.4" y1="2042.8" x2="1558.0" y2="2042.8" stroke="#a9a9a9" stroke-width="1.8"/>
<text x="1006.6" y="2048.2" font-size="15" fill="#444" text-anchor="end" font-weight="normal" letter-spacing="0" font-family="'Liberation Sans',sans-serif" >1.65</text>
<line x1="1019.4" y1="2004.6" x2="1558.0" y2="2004.6" stroke="#a9a9a9" stroke-width="1.8"/>
<text x="1006.6" y="2010.0" font-size="15" fill="#444" text-anchor="end" font-weight="normal" letter-spacing="0" font-family="'Liberation Sans',sans-serif" >1.75</text>
<line x1="1019.4" y1="1966.4" x2="1558.0" y2="1966.4" stroke="#a9a9a9" stroke-width="1.8"/>
<text x="1006.6" y="1971.8" font-size="15" fill="#444" text-anchor="end" font-weight="normal" letter-spacing="0" font-family="'Liberation Sans',sans-serif" >1.85</text>
<line x1="1019.4" y1="1928.2" x2="1558.0" y2="1928.2" stroke="#a9a9a9" stroke-width="1.8"/>
<text x="1006.6" y="1933.6" font-size="15" fill="#444" text-anchor="end" font-weight="normal" letter-spacing="0" font-family="'Liberation Sans',sans-serif" >1.95</text>
<line x1="1019.4" y1="1890.0" x2="1558.0" y2="1890.0" stroke="#a9a9a9" stroke-width="1.8"/>
<text x="1006.6" y="1895.4" font-size="15" fill="#444" text-anchor="end" font-weight="normal" letter-spacing="0" font-family="'Liberation Sans',sans-serif" >2.05</text>
<line x1="1019.4" y1="1851.7" x2="1558.0" y2="1851.7" stroke="#dedede" stroke-width="3"/>
<text x="1006.6" y="1857.1" font-size="15" fill="#444" text-anchor="end" font-weight="normal" letter-spacing="0" font-family="'Liberation Sans',sans-serif" >2.15</text>
<line x1="1019.4" y1="1813.5" x2="1558.0" y2="1813.5" stroke="#cfcfcf" stroke-width="1.8"/>
<text x="1006.6" y="1818.9" font-size="15" fill="#444" text-anchor="end" font-weight="normal" letter-spacing="0" font-family="'Liberation Sans',sans-serif" >2.25</text>
<line x1="1023.4" y1="1813.7" x2="1023.4" y2="2161.0" stroke="#a9a9a9" stroke-width="1.5"/>
<line x1="1023.4" y1="2157.5" x2="1023.4" y2="2161.5" stroke="#a9a9a9" stroke-width="1.2"/>
<text x="1023.4" y="2182.5" font-size="13" fill="#444" text-anchor="middle" font-weight="normal" letter-spacing="0" font-family="'Liberation Sans',sans-serif" >0:00</text>
<line x1="1099.3" y1="2157.5" x2="1099.3" y2="2161.5" stroke="#a9a9a9" stroke-width="1.2"/>
<text x="1099.3" y="2182.5" font-size="13" fill="#444" text-anchor="middle" font-weight="normal" letter-spacing="0" font-family="'Liberation Sans',sans-serif" >1:00</text>
<line x1="1175.2" y1="2157.5" x2="1175.2" y2="2161.5" stroke="#a9a9a9" stroke-width="1.2"/>
<text x="1175.2" y="2182.5" font-size="13" fill="#444" text-anchor="middle" font-weight="normal" letter-spacing="0" font-family="'Liberation Sans',sans-serif" >2:00</text>
<line x1="1251.1" y1="2157.5" x2="1251.1" y2="2161.5" stroke="#a9a9a9" stroke-width="1.2"/>
<text x="1251.1" y="2182.5" font-size="13" fill="#444" text-anchor="middle" font-weight="normal" letter-spacing="0" font-family="'Liberation Sans',sans-serif" >3:00</text>
<line x1="1327.0" y1="2157.5" x2="1327.0" y2="2161.5" stroke="#a9a9a9" stroke-width="1.2"/>
<text x="1327.0" y="2182.5" font-size="13" fill="#444" text-anchor="middle" font-weight="normal" letter-spacing="0" font-family="'Liberation Sans',sans-serif" >4:00</text>
<line x1="1402.9" y1="2157.5" x2="1402.9" y2="2161.5" stroke="#a9a9a9" stroke-width="1.2"/>
<text x="1402.9" y="2182.5" font-size="13" fill="#444" text-anchor="middle" font-weight="normal" letter-spacing="0" font-family="'Liberation Sans',sans-serif" >5:00</text>
<line x1="1478.8" y1="2157.5" x2="1478.8" y2="2161.5" stroke="#a9a9a9" stroke-width="1.2"/>
<text x="1478.8" y="2182.5" font-size="13" fill="#444" text-anchor="middle" font-weight="normal" letter-spacing="0" font-family="'Liberation Sans',sans-serif" >6:00</text>
<line x1="1554.7" y1="2157.5" x2="1554.7" y2="2161.5" stroke="#a9a9a9" stroke-width="1.2"/>
<text x="1554.7" y="2182.5" font-size="13" fill="#444" text-anchor="middle" font-weight="normal" letter-spacing="0" font-family="'Liberation Sans',sans-serif" >7:00</text>
<text x="1290.0" y="2214.0" font-size="16" fill="#333" text-anchor="middle" font-weight="bold" letter-spacing="0" font-family="'Liberation Sans',sans-serif" >时间/h:min</text>
<text transform="translate(964.0,1791.2) scale(1.2956,1)" font-size="17.09" font-family="'Liberation Sans',sans-serif" font-weight="normal" letter-spacing="0.00" fill="#333" >电压/V</text>
<text transform="translate(1126.0,1797.3) scale(1.2827,1)" font-size="16.95" font-family="'Liberation Sans',sans-serif" font-weight="bold" letter-spacing="0.50" fill="#333" stroke="#333" stroke-width="0.3" stroke-linejoin="round">氢镍、镉镍低温-40℃下0.2It充电曲线比较</text>
<path d="M1024.6,1957.5 L1024.7,1954.4 L1024.7,1953.3 L1024.8,1952.1 L1024.9,1950.8 L1025.0,1949.4 L1025.1,1947.9 L1025.3,1946.5 L1025.5,1945.0 L1025.7,1943.6 L1026.0,1942.3 L1026.3,1940.9 L1026.7,1939.6 L1027.3,1938.3 L1027.9,1937.0 L1028.6,1935.8 L1029.5,1934.7 L1030.5,1933.6 L1031.6,1932.7 L1032.7,1931.8 L1033.9,1931.1 L1035.2,1930.4 L1036.5,1929.9 L1037.9,1929.4 L1039.3,1929.0 L1040.8,1928.7 L1042.3,1928.4 L1043.8,1928.2 L1045.3,1928.0 L1046.8,1927.8 L1048.3,1927.7 L1049.8,1927.6 L1051.4,1927.6 L1052.9,1927.5 L1054.4,1927.5 L1055.9,1927.6 L1057.4,1927.6 L1058.9,1927.7 L1060.4,1927.8 L1061.8,1927.8 L1063.3,1927.9 L1064.8,1928.0 L1066.3,1928.2 L1067.8,1928.3 L1069.3,1928.4 L1070.8,1928.5 L1072.3,1928.7 L1073.8,1928.8 L1075.3,1929.0 L1076.8,1929.1 L1078.3,1929.3 L1079.8,1929.4 L1081.3,1929.6 L1082.8,1929.7 L1084.3,1929.9 L1085.8,1930.0 L1087.3,1930.2 L1088.8,1930.4 L1090.3,1930.5 L1091.7,1930.7 L1093.2,1930.9 L1094.7,1931.0 L1096.2,1931.2 L1097.7,1931.4 L1099.2,1931.6 L1100.7,1931.8 L1102.1,1932.0 L1103.6,1932.2 L1105.1,1932.4 L1106.6,1932.6 L1108.1,1932.8 L1109.6,1933.1 L1111.0,1933.3 L1112.5,1933.5 L1114.0,1933.8 L1115.5,1934.0 L1117.0,1934.2 L1118.5,1934.5 L1119.9,1934.7 L1121.4,1935.0 L1122.9,1935.2 L1124.4,1935.4 L1125.9,1935.7 L1127.3,1935.9 L1128.8,1936.2 L1130.3,1936.4 L1131.8,1936.7 L1133.3,1936.9 L1134.7,1937.2 L1136.2,1937.4 L1137.7,1937.7 L1139.2,1937.9 L1140.7,1938.2 L1142.1,1938.4 L1143.6,1938.7 L1145.1,1939.0 L1146.6,1939.3 L1148.1,1939.6 L1149.5,1939.9 L1151.0,1940.2 L1152.5,1940.5 L1154.0,1940.8 L1155.4,1941.2 L1156.9,1941.5 L1158.4,1941.8 L1159.9,1942.2 L1161.3,1942.5 L1162.8,1942.8 L1164.3,1943.2 L1165.8,1943.5 L1167.2,1943.8 L1168.7,1944.1 L1170.2,1944.4 L1171.7,1944.7 L1173.2,1945.0 L1174.6,1945.3 L1176.1,1945.6 L1177.6,1945.9 L1179.1,1946.1 L1180.5,1946.3 L1182.0,1946.6 L1183.5,1946.8 L1185.0,1947.0 L1186.4,1947.1 L1187.9,1947.3 L1189.4,1947.4 L1190.9,1947.5 L1192.4,1947.6 L1193.8,1947.7 L1195.3,1947.7 L1196.8,1947.8 L1198.3,1947.8 L1199.8,1947.7 L1201.2,1947.7 L1202.7,1947.6 L1204.2,1947.5 L1205.7,1947.4 L1207.2,1947.3 L1208.7,1947.2 L1210.2,1947.0 L1211.7,1946.8 L1213.1,1946.6 L1214.6,1946.4 L1216.1,1946.2 L1217.6,1946.0 L1219.1,1945.7 L1220.6,1945.5 L1222.1,1945.2 L1223.6,1944.9 L1225.1,1944.6 L1226.5,1944.3 L1228.0,1944.1 L1229.5,1943.8 L1231.0,1943.4 L1232.5,1943.1 L1233.9,1942.8 L1235.4,1942.5 L1236.9,1942.2 L1238.3,1941.9 L1239.8,1941.6 L1241.3,1941.3 L1242.7,1940.9 L1244.2,1940.6 L1245.6,1940.3 L1247.1,1940.0 L1248.5,1939.6 L1250.0,1939.2 L1251.4,1938.9 L1252.8,1938.5 L1254.3,1938.1 L1255.7,1937.7 L1257.2,1937.3 L1258.6,1936.9 L1260.0,1936.5 L1261.5,1936.0 L1262.9,1935.6 L1264.3,1935.1 L1265.7,1934.7 L1267.2,1934.2 L1268.6,1933.7 L1270.0,1933.2 L1271.4,1932.7 L1272.8,1932.2 L1274.3,1931.7 L1275.7,1931.2 L1277.1,1930.7 L1278.5,1930.2 L1279.9,1929.7 L1281.3,1929.2 L1282.8,1928.6 L1284.2,1928.1 L1285.6,1927.6 L1287.0,1927.0 L1288.4,1926.5 L1289.8,1926.0 L1291.2,1925.4 L1292.6,1924.9 L1294.0,1924.4 L1295.5,1923.9 L1296.9,1923.3 L1298.3,1922.8 L1299.7,1922.3 L1301.1,1921.8 L1302.5,1921.2 L1303.9,1920.7 L1305.3,1920.2 L1306.7,1919.7 L1308.1,1919.2 L1309.5,1918.7 L1310.9,1918.1 L1312.4,1917.6 L1313.8,1917.1 L1315.2,1916.6 L1316.6,1916.1 L1318.0,1915.5 L1319.4,1915.0 L1320.8,1914.5 L1322.2,1914.0 L1323.6,1913.4 L1325.0,1912.9 L1326.4,1912.4 L1327.8,1911.8 L1329.2,1911.3 L1330.6,1910.7 L1332.0,1910.2 L1333.4,1909.6 L1334.8,1909.1 L1336.2,1908.6 L1337.6,1908.0 L1339.0,1907.5 L1340.3,1906.9 L1341.7,1906.4 L1343.1,1905.8 L1344.5,1905.3 L1345.9,1904.7 L1347.3,1904.2 L1348.7,1903.6 L1350.1,1903.0 L1351.5,1902.5 L1352.9,1901.9 L1354.3,1901.4 L1355.7,1900.8 L1357.1,1900.3 L1358.5,1899.7 L1359.9,1899.2 L1361.3,1898.6 L1362.6,1898.1 L1364.0,1897.5 L1365.4,1897.0 L1366.8,1896.4 L1368.2,1895.9 L1369.6,1895.3 L1371.0,1894.8 L1372.4,1894.2 L1373.8,1893.7 L1375.2,1893.1 L1376.6,1892.6 L1378.0,1892.0 L1379.4,1891.5 L1380.8,1890.9 L1382.2,1890.4 L1383.6,1889.8 L1385.0,1889.3 L1386.4,1888.7 L1387.8,1888.2 L1389.2,1887.6 L1390.6,1887.0 L1391.9,1886.5 L1393.3,1885.9 L1394.7,1885.3 L1396.1,1884.8 L1397.5,1884.2 L1398.9,1883.6 L1400.3,1883.0 L1401.7,1882.5 L1403.1,1881.9 L1404.5,1881.3 L1405.8,1880.7 L1407.2,1880.1 L1408.6,1879.6 L1410.0,1879.0 L1411.4,1878.4 L1412.8,1877.8 L1414.2,1877.3 L1415.6,1876.7 L1417.0,1876.1 L1418.4,1875.5 L1419.8,1875.0 L1421.1,1874.4 L1422.5,1873.9 L1423.9,1873.3 L1425.3,1872.8 L1426.7,1872.2 L1428.1,1871.7 L1429.5,1871.1 L1430.9,1870.6 L1432.3,1870.1 L1433.7,1869.6 L1435.1,1869.1 L1436.6,1868.6 L1438.0,1868.1 L1439.4,1867.6 L1440.8,1867.1 L1442.2,1866.6 L1443.6,1866.1 L1445.0,1865.7 L1446.5,1865.2 L1447.9,1864.8 L1449.3,1864.4 L1450.7,1863.9 L1452.2,1863.5 L1453.6,1863.1 L1455.0,1862.7 L1456.5,1862.3 L1457.9,1861.9 L1459.3,1861.5 L1460.8,1861.1 L1462.2,1860.7 L1463.7,1860.3 L1465.1,1860.0 L1466.6,1859.6 L1468.0,1859.2 L1469.5,1858.8 L1471.0,1858.5 L1472.4,1858.1 L1473.9,1857.7 L1475.3,1857.4 L1476.8,1857.1 L1478.3,1856.7 L1479.7,1856.4 L1481.2,1856.0 L1482.7,1855.7 L1484.1,1855.4 L1485.6,1855.1 L1487.1,1854.8 L1488.6,1854.5 L1490.0,1854.2 L1491.5,1853.9 L1493.0,1853.7 L1494.5,1853.4 L1495.9,1853.1 L1497.4,1852.9 L1498.9,1852.6 L1500.4,1852.4 L1501.8,1852.2 L1503.3,1852.0 L1504.8,1851.7 L1506.3,1851.5 L1507.8,1851.3 L1509.2,1851.1 L1510.7,1850.9 L1512.2,1850.7 L1513.7,1850.5 L1515.2,1850.3 L1516.6,1850.1 L1518.1,1850.0 L1519.6,1849.8 L1521.1,1849.6 L1522.6,1849.4 L1524.1,1849.2 L1525.6,1849.1 L1527.1,1848.9 L1528.5,1848.7 L1530.0,1848.6 L1531.5,1848.4 L1533.0,1848.2 L1534.5,1848.1 L1536.0,1848.0 L1537.5,1847.8 L1539.0,1847.7 L1540.5,1847.5 L1542.0,1847.4 L1543.5,1847.3 L1545.0,1847.2 L1546.5,1847.1 L1547.9,1847.0 L1549.4,1846.9 L1550.8,1846.8 L1552.1,1846.7 L1553.4,1846.6 L1554.5,1846.6 L1555.5,1846.5 L1558.0,1846.4" fill="none" stroke="#c0504d" stroke-width="2.8" stroke-linejoin="round" stroke-linecap="round" />
<path d="M1024.6,2146.0 L1024.6,2142.3 L1024.7,2141.1 L1024.7,2139.6 L1024.7,2138.1 L1024.8,2136.5 L1024.8,2134.8 L1024.9,2133.2 L1024.9,2131.6 L1025.0,2130.0 L1025.1,2128.5 L1025.2,2127.0 L1025.4,2125.6 L1025.5,2124.3 L1025.6,2123.0 L1025.8,2121.7 L1026.0,2120.5 L1026.3,2119.4 L1026.7,2118.3 L1027.2,2117.2 L1027.8,2116.3 L1028.5,2115.4 L1029.4,2114.5 L1030.5,2113.8 L1031.6,2113.1 L1032.9,2112.6 L1034.3,2112.1 L1035.7,2111.7 L1037.1,2111.5 L1038.5,2111.2 L1040.0,2111.0 L1041.4,2110.9 L1042.9,2110.7 L1044.4,2110.6 L1045.9,2110.5 L1047.4,2110.4 L1048.9,2110.3 L1050.4,2110.2 L1051.9,2110.2 L1053.5,2110.1 L1055.0,2110.0 L1056.5,2110.0 L1058.1,2109.9 L1059.6,2109.8 L1061.1,2109.8 L1062.6,2109.7 L1064.2,2109.6 L1065.7,2109.6 L1067.2,2109.5 L1068.7,2109.4 L1070.2,2109.4 L1071.7,2109.3 L1073.2,2109.2 L1074.7,2109.2 L1076.2,2109.1 L1077.7,2109.0 L1079.2,2109.0 L1080.7,2108.9 L1082.2,2108.9 L1083.7,2108.8 L1085.2,2108.8 L1086.7,2108.7 L1088.2,2108.7 L1089.7,2108.6 L1091.2,2108.5 L1092.7,2108.5 L1094.2,2108.4 L1095.7,2108.4 L1097.2,2108.3 L1098.7,2108.3 L1100.2,2108.3 L1101.7,2108.2 L1103.2,2108.2 L1104.7,2108.1 L1106.2,2108.1 L1107.7,2108.0 L1109.2,2107.9 L1110.7,2107.9 L1112.2,2107.8 L1113.7,2107.8 L1115.2,2107.7 L1116.7,2107.7 L1118.2,2107.6 L1119.7,2107.6 L1121.2,2107.5 L1122.7,2107.4 L1124.2,2107.4 L1125.7,2107.3 L1127.2,2107.2 L1128.7,2107.1 L1130.2,2107.1 L1131.7,2107.0 L1133.2,2106.9 L1134.7,2106.8 L1136.2,2106.7 L1137.6,2106.6 L1139.1,2106.5 L1140.6,2106.4 L1142.1,2106.3 L1143.6,2106.2 L1145.1,2106.1 L1146.6,2105.9 L1148.1,2105.8 L1149.6,2105.6 L1151.1,2105.5 L1152.6,2105.3 L1154.0,2105.2 L1155.5,2105.0 L1157.0,2104.8 L1158.5,2104.6 L1160.0,2104.4 L1161.5,2104.2 L1163.0,2104.0 L1164.5,2103.8 L1165.9,2103.6 L1167.4,2103.4 L1168.9,2103.2 L1170.4,2103.0 L1171.9,2102.8 L1173.4,2102.5 L1174.9,2102.3 L1176.3,2102.1 L1177.8,2101.9 L1179.3,2101.6 L1180.8,2101.4 L1182.3,2101.2 L1183.8,2100.9 L1185.2,2100.7 L1186.7,2100.5 L1188.2,2100.2 L1189.7,2100.0 L1191.2,2099.8 L1192.7,2099.5 L1194.2,2099.3 L1195.6,2099.1 L1197.1,2098.9 L1198.6,2098.6 L1200.1,2098.4 L1201.6,2098.2 L1203.1,2098.0 L1204.5,2097.8 L1206.0,2097.6 L1207.5,2097.4 L1209.0,2097.2 L1210.5,2096.9 L1212.0,2096.7 L1213.5,2096.5 L1215.0,2096.3 L1216.4,2096.1 L1217.9,2095.9 L1219.4,2095.7 L1220.9,2095.5 L1222.4,2095.3 L1223.9,2095.1 L1225.4,2094.8 L1226.8,2094.6 L1228.3,2094.4 L1229.8,2094.2 L1231.3,2094.0 L1232.8,2093.8 L1234.3,2093.5 L1235.8,2093.3 L1237.2,2093.1 L1238.7,2092.9 L1240.2,2092.6 L1241.7,2092.4 L1243.2,2092.2 L1244.7,2091.9 L1246.1,2091.7 L1247.6,2091.5 L1249.1,2091.2 L1250.6,2091.0 L1252.0,2090.7 L1253.5,2090.5 L1255.0,2090.2 L1256.5,2090.0 L1257.9,2089.7 L1259.4,2089.4 L1260.9,2089.2 L1262.4,2088.9 L1263.8,2088.6 L1265.3,2088.3 L1266.8,2088.0 L1268.2,2087.7 L1269.7,2087.4 L1271.2,2087.1 L1272.6,2086.7 L1274.1,2086.4 L1275.5,2086.0 L1277.0,2085.7 L1278.4,2085.3 L1279.9,2085.0 L1281.4,2084.6 L1282.8,2084.2 L1284.3,2083.9 L1285.7,2083.5 L1287.2,2083.1 L1288.6,2082.7 L1290.1,2082.3 L1291.5,2081.9 L1293.0,2081.5 L1294.4,2081.2 L1295.9,2080.8 L1297.3,2080.4 L1298.8,2080.0 L1300.2,2079.6 L1301.7,2079.2 L1303.1,2078.9 L1304.6,2078.5 L1306.0,2078.1 L1307.5,2077.8 L1309.0,2077.4 L1310.4,2077.0 L1311.9,2076.7 L1313.3,2076.4 L1314.8,2076.0 L1316.3,2075.7 L1317.7,2075.3 L1319.2,2075.0 L1320.6,2074.7 L1322.1,2074.3 L1323.6,2074.0 L1325.0,2073.7 L1326.5,2073.3 L1328.0,2073.0 L1329.4,2072.7 L1330.9,2072.3 L1332.4,2072.0 L1333.8,2071.7 L1335.3,2071.4 L1336.8,2071.0 L1338.2,2070.7 L1339.7,2070.4 L1341.2,2070.1 L1342.7,2069.9 L1344.1,2069.6 L1345.6,2069.3 L1347.1,2069.1 L1348.6,2068.8 L1350.0,2068.6 L1351.5,2068.4 L1353.0,2068.1 L1354.5,2067.9 L1356.0,2067.7 L1357.4,2067.6 L1358.9,2067.4 L1360.4,2067.2 L1361.9,2067.1 L1363.4,2066.9 L1364.9,2066.8 L1366.4,2066.6 L1367.9,2066.5 L1369.3,2066.3 L1370.8,2066.2 L1372.3,2066.1 L1373.8,2065.9 L1375.3,2065.8 L1376.8,2065.7 L1378.3,2065.6 L1379.8,2065.5 L1381.3,2065.4 L1382.8,2065.2 L1384.3,2065.1 L1385.8,2065.0 L1387.3,2064.9 L1388.8,2064.8 L1390.3,2064.7 L1391.8,2064.6 L1393.3,2064.5 L1394.8,2064.4 L1396.3,2064.3 L1397.8,2064.2 L1399.3,2064.1 L1400.8,2064.0 L1402.3,2063.9 L1403.8,2063.9 L1405.3,2063.8 L1406.8,2063.7 L1408.3,2063.6 L1409.8,2063.5 L1411.3,2063.4 L1412.8,2063.3 L1414.3,2063.2 L1415.8,2063.1 L1417.3,2063.1 L1418.8,2063.0 L1420.3,2062.9 L1421.8,2062.8 L1423.3,2062.7 L1424.8,2062.6 L1426.2,2062.6 L1427.7,2062.5 L1429.2,2062.4 L1430.7,2062.3 L1432.2,2062.3 L1433.7,2062.2 L1435.2,2062.1 L1436.7,2062.1 L1438.2,2062.0 L1439.7,2061.9 L1441.2,2061.9 L1442.7,2061.8 L1444.2,2061.7 L1445.7,2061.7 L1447.2,2061.6 L1448.7,2061.5 L1450.2,2061.5 L1451.7,2061.4 L1453.2,2061.3 L1454.7,2061.3 L1456.2,2061.2 L1457.7,2061.1 L1459.2,2061.1 L1460.7,2061.0 L1462.2,2060.9 L1463.7,2060.9 L1465.2,2060.8 L1466.7,2060.7 L1468.2,2060.7 L1469.7,2060.6 L1471.2,2060.5 L1472.7,2060.4 L1474.2,2060.4 L1475.7,2060.3 L1477.2,2060.2 L1478.7,2060.1 L1480.2,2060.1 L1481.7,2060.0 L1483.2,2059.9 L1484.7,2059.8 L1486.2,2059.7 L1487.7,2059.6 L1489.2,2059.6 L1490.7,2059.5 L1492.2,2059.4 L1493.7,2059.3 L1495.2,2059.2 L1496.7,2059.1 L1498.1,2059.0 L1499.6,2058.9 L1501.1,2058.8 L1502.6,2058.7 L1504.1,2058.6 L1505.6,2058.4 L1507.1,2058.3 L1508.6,2058.2 L1510.1,2058.1 L1511.6,2058.0 L1513.1,2057.8 L1514.6,2057.7 L1516.1,2057.6 L1517.6,2057.5 L1519.1,2057.3 L1520.6,2057.2 L1522.1,2057.1 L1523.6,2056.9 L1525.0,2056.8 L1526.5,2056.7 L1528.0,2056.5 L1529.5,2056.4 L1531.0,2056.2 L1532.5,2056.1 L1534.0,2056.0 L1535.5,2055.8 L1537.0,2055.7 L1538.5,2055.5 L1540.0,2055.4 L1541.5,2055.2 L1543.0,2055.1 L1544.4,2054.9 L1545.9,2054.8 L1547.4,2054.6 L1548.8,2054.5 L1550.1,2054.3 L1551.3,2054.2 L1552.4,2054.1 L1553.4,2054.0 L1555.9,2053.7" fill="none" stroke="#4f81bd" stroke-width="2.8" stroke-linejoin="round" stroke-linecap="round" />
<rect x="1105.0" y="1858.2" width="174.0" height="40.6" fill="#fff" stroke="#2a2a2a" stroke-width="2.8"/>
<text x="1115.0" y="1877.0" font-size="12" fill="#444" text-anchor="start" font-weight="normal" letter-spacing="0" font-family="'Liberation Sans',sans-serif" >GNC120烧结镉镍电池</text>
<rect x="1164.7" y="2011.0" width="107.3" height="39.0" fill="#fff" stroke="#2a2a2a" stroke-width="2.8"/>
<text x="1177.0" y="2032.0" font-size="13" fill="#444" text-anchor="start" font-weight="normal" letter-spacing="0" font-family="'Liberation Sans',sans-serif" >氢镍电池</text>
<line x1="1191.0" y1="1947.0" x2="1191.0" y2="1913.0" stroke="#c0504d" stroke-width="2.6"/>
<polygon points="1191.0,1901.0 1197.5,1913.0 1184.5,1913.0" fill="#c0504d"/>
<line x1="1205.0" y1="2092.7" x2="1205.0" y2="2062.0" stroke="#4f81bd" stroke-width="2.6"/>
<polygon points="1205.0,2050.0 1211.5,2062.0 1198.5,2062.0" fill="#4f81bd"/>
<line x1="123.0" y1="2253.5" x2="1581.0" y2="2253.5" stroke="#3a3a3a" stroke-width="2.5"/>
<line x1="123.0" y1="2566.0" x2="1581.0" y2="2566.0" stroke="#3a3a3a" stroke-width="2.5"/>
<line x1="123.0" y1="2477.5" x2="1581.0" y2="2477.5" stroke="#3a3a3a" stroke-width="2.5"/>
<line x1="594.5" y1="2296.0" x2="1581.0" y2="2296.0" stroke="#6f7f95" stroke-width="2.5"/>
<line x1="594.5" y1="2381.0" x2="1581.0" y2="2381.0" stroke="#3a3a3a" stroke-width="2.5"/>
<line x1="594.5" y1="2422.7" x2="1581.0" y2="2422.7" stroke="#6f7f95" stroke-width="2.2"/>
<line x1="123.0" y1="2253.5" x2="123.0" y2="2566.0" stroke="#3a3a3a" stroke-width="2.5"/>
<line x1="357.0" y1="2253.5" x2="357.0" y2="2566.0" stroke="#3a3a3a" stroke-width="2.5"/>
<line x1="594.5" y1="2253.5" x2="594.5" y2="2566.0" stroke="#3a3a3a" stroke-width="2.5"/>
<line x1="1581.0" y1="2253.5" x2="1581.0" y2="2566.0" stroke="#3a3a3a" stroke-width="2.5"/>
<line x1="1085.0" y1="2296.0" x2="1085.0" y2="2566.0" stroke="#3a3a3a" stroke-width="2.5"/>
<line x1="841.7" y1="2422.7" x2="841.7" y2="2566.0" stroke="#3a3a3a" stroke-width="2.5"/>
<line x1="1332.8" y1="2422.7" x2="1332.8" y2="2566.0" stroke="#3a3a3a" stroke-width="2.5"/>
<text transform="translate(152.6,2351.5) scale(1.7578,1)" font-size="24.98" font-family="'Liberation Serif',serif" font-weight="bold" letter-spacing="1.00" fill="#1d2b4a" stroke="#1d2b4a" stroke-width="0.6" stroke-linejoin="round">恒流放电</text>
<text transform="translate(154.2,2392.7) scale(1.8790,1)" font-size="25.00" font-family="'Liberation Serif',serif" font-weight="bold" letter-spacing="1.00" fill="#1d2b4a" stroke="#1d2b4a" stroke-width="0.6" stroke-linejoin="round">率（A）</text>
<text transform="translate(387.5,2352.5) scale(1.7148,1)" font-size="26.07" font-family="'Liberation Serif',serif" font-weight="bold" letter-spacing="1.00" fill="#1d2b4a" stroke="#1d2b4a" stroke-width="0.6" stroke-linejoin="round">终止电压</text>
<text transform="translate(402.5,2391.7) scale(1.7611,1)" font-size="29.59" font-family="'Liberation Serif',serif" font-weight="bold" letter-spacing="1.00" fill="#1d2b4a" stroke="#1d2b4a" stroke-width="0.6" stroke-linejoin="round">（V）</text>
<text transform="translate(946.0,2280.5) scale(1.8491,1)" font-size="25.04" font-family="'Liberation Serif',serif" font-weight="bold" letter-spacing="1.00" fill="#1d2b4a" stroke="#1d2b4a" stroke-width="0.6" stroke-linejoin="round">放电温度条件</text>
<text transform="translate(772.0,2324.4) scale(1.6390,1)" font-size="27.90" font-family="'Liberation Serif',serif" font-weight="bold" letter-spacing="2.00" fill="#1d2b4a" stroke="#1d2b4a" stroke-width="0.6" stroke-linejoin="round">−40℃</text>
<text transform="translate(656.0,2364.5) scale(1.6175,1)" font-size="25.78" font-family="'Liberation Serif',serif" font-weight="bold" letter-spacing="2.00" fill="#1d2b4a" stroke="#1d2b4a" stroke-width="0.6" stroke-linejoin="round">（d=1.233g/cm³）</text>
<text transform="translate(631.0,2411.6) scale(1.8147,1)" font-size="22.88" font-family="'Liberation Serif',serif" font-weight="bold" letter-spacing="1.00" fill="#1d2b4a" stroke="#1d2b4a" stroke-width="0.6" stroke-linejoin="round">氢镍电池 HKH120P-4</text>
<text transform="translate(1266.0,2347.9) scale(1.5362,1)" font-size="30.50" font-family="'Liberation Serif',serif" font-weight="bold" letter-spacing="2.00" fill="#1d2b4a" stroke="#1d2b4a" stroke-width="0.6" stroke-linejoin="round">−40℃</text>
<text transform="translate(1155.8,2408.3) scale(1.6360,1)" font-size="25.94" font-family="'Liberation Serif',serif" font-weight="bold" letter-spacing="1.00" fill="#1d2b4a" stroke="#1d2b4a" stroke-width="0.6" stroke-linejoin="round">镉镍电池 GNC120</text>
<text transform="translate(670.0,2457.6) scale(1.7312,1)" font-size="23.11" font-family="'Liberation Serif',serif" font-weight="bold" letter-spacing="8.00" fill="#1d2b4a" stroke="#1d2b4a" stroke-width="0.6" stroke-linejoin="round">标准</text>
<text transform="translate(913.0,2457.6) scale(1.8114,1)" font-size="23.08" font-family="'Liberation Serif',serif" font-weight="bold" letter-spacing="8.00" fill="#1d2b4a" stroke="#1d2b4a" stroke-width="0.6" stroke-linejoin="round">实测</text>
<text transform="translate(1160.0,2458.5) scale(1.5082,1)" font-size="26.55" font-family="'Liberation Serif',serif" font-weight="bold" letter-spacing="8.00" fill="#1d2b4a" stroke="#1d2b4a" stroke-width="0.6" stroke-linejoin="round">标准</text>
<text transform="translate(1403.0,2458.5) scale(1.7185,1)" font-size="25.47" font-family="'Liberation Serif',serif" font-weight="bold" letter-spacing="8.00" fill="#1d2b4a" stroke="#1d2b4a" stroke-width="0.6" stroke-linejoin="round">实测</text>
<text transform="translate(176.0,2532.0) scale(1.6550,1)" font-size="29.46" font-family="'Liberation Serif',serif" font-weight="bold" letter-spacing="4.00" fill="#1d2b4a" stroke="#1d2b4a" stroke-width="0.6" stroke-linejoin="round">0.1It</text>
<text transform="translate(435.0,2532.0) scale(1.5401,1)" font-size="29.46" font-family="'Liberation Serif',serif" font-weight="bold" letter-spacing="8.00" fill="#1d2b4a" stroke="#1d2b4a" stroke-width="0.6" stroke-linejoin="round">1.0</text>
<text transform="translate(612.0,2532.0) scale(1.5175,1)" font-size="33.73" font-family="'Liberation Serif',serif" font-weight="bold" letter-spacing="1.00" fill="#1d2b4a" stroke="#1d2b4a" stroke-width="0.6" stroke-linejoin="round">＞6h</text>
<text transform="translate(866.7,2531.2) scale(1.6893,1)" font-size="25.92" font-family="'Liberation Serif',serif" font-weight="bold" letter-spacing="1.00" fill="#1d2b4a" stroke="#1d2b4a" stroke-width="0.6" stroke-linejoin="round">8h15min</text>
<text transform="translate(1102.0,2532.0) scale(1.6099,1)" font-size="32.34" font-family="'Liberation Serif',serif" font-weight="bold" letter-spacing="1.00" fill="#1d2b4a" stroke="#1d2b4a" stroke-width="0.6" stroke-linejoin="round">＞6h</text>
<text transform="translate(1357.0,2532.0) scale(1.7097,1)" font-size="27.78" font-family="'Liberation Serif',serif" font-weight="bold" letter-spacing="2.00" fill="#1d2b4a" stroke="#1d2b4a" stroke-width="0.6" stroke-linejoin="round">8h</text>
<path d="M838.0,2420.0 L841.0,2418.5 L844.0,2421.5 L847.0,2418.5 L850.0,2421.5 L853.0,2418.5 L856.0,2421.5 L859.0,2418.5 L862.0,2421.5 L865.0,2418.5 L868.0,2421.5 L871.0,2418.5 L874.0,2421.5 L877.0,2418.5 L880.0,2421.5 L883.0,2418.5 L886.0,2421.5 L889.0,2418.5 L892.0,2421.5 L895.0,2418.5 L898.0,2421.5 L901.0,2418.5 L904.0,2421.5 L907.0,2418.5 L910.0,2421.5 L913.0,2418.5 L916.0,2421.5 L919.0,2418.5 L922.0,2421.5 L925.0,2418.5 L928.0,2421.5 L931.0,2418.5 L934.0,2421.5 L937.0,2418.5 L940.0,2421.5 L943.0,2418.5 L946.0,2421.5 L949.0,2418.5 L952.0,2421.5 L955.0,2418.5 L958.0,2421.5 L961.0,2418.5 L964.0,2421.5 L967.0,2418.5 L970.0,2421.5 L973.0,2418.5 L976.0,2421.5 L979.0,2418.5 L982.0,2421.5 L985.0,2418.5 L988.0,2421.5 L991.0,2418.5 L994.0,2421.5 L997.0,2418.5 L1000.0,2421.5 L1003.0,2418.5 L1006.0,2421.5 L1009.0,2418.5 L1012.0,2421.5" fill="none" stroke="#e05050" stroke-width="1.2" stroke-linejoin="round" stroke-linecap="round" />
<path d="M668.0,2537.0 L671.0,2535.5 L674.0,2538.5 L677.0,2535.5 L680.0,2538.5 L683.0,2535.5 L686.0,2538.5 L689.0,2535.5 L692.0,2538.5 L695.0,2535.5 L698.0,2538.5 L701.0,2535.5 L704.0,2538.5 L707.0,2535.5 L710.0,2538.5 L713.0,2535.5 L716.0,2538.5 L719.0,2535.5" fill="none" stroke="#e05050" stroke-width="1.2" stroke-linejoin="round" stroke-linecap="round" />
</svg>
</body></html>
